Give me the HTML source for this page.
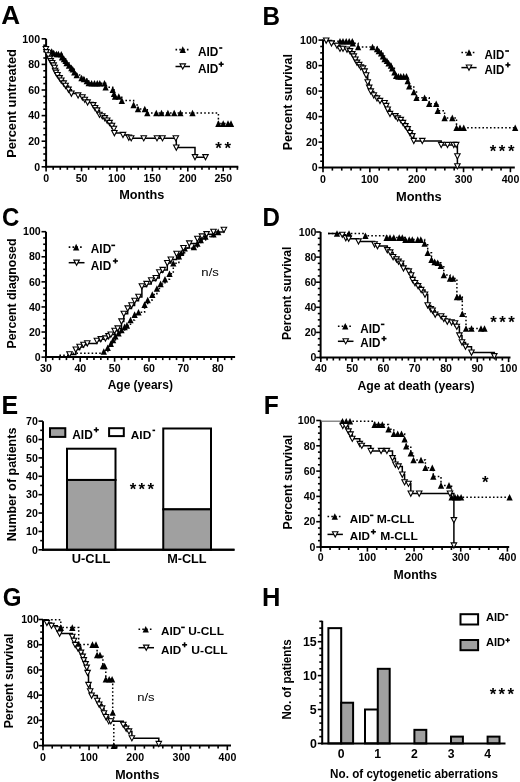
<!DOCTYPE html>
<html><head><meta charset="utf-8"><style>
html,body{margin:0;padding:0;background:#fff;}
svg{display:block;will-change:transform;}
text{font-family:"Liberation Sans", sans-serif;fill:#000;}
</style></head><body>
<svg width="520" height="782" viewBox="0 0 520 782">
<rect width="520" height="782" fill="#fff"/>
<text x="1.25" y="24.40" font-size="25.50" font-weight="bold" textLength="18.84" lengthAdjust="spacingAndGlyphs">A</text>
<text x="262.38" y="24.50" font-size="25.50" font-weight="bold" textLength="17.53" lengthAdjust="spacingAndGlyphs">B</text>
<text x="2.12" y="225.90" font-size="25.50" font-weight="bold" textLength="17.34" lengthAdjust="spacingAndGlyphs">C</text>
<text x="262.39" y="225.90" font-size="25.50" font-weight="bold" textLength="17.43" lengthAdjust="spacingAndGlyphs">D</text>
<text x="1.43" y="413.80" font-size="25.50" font-weight="bold" textLength="16.64" lengthAdjust="spacingAndGlyphs">E</text>
<text x="263.85" y="413.75" font-size="25.50" font-weight="bold" textLength="15.05" lengthAdjust="spacingAndGlyphs">F</text>
<text x="2.76" y="606.00" font-size="25.50" font-weight="bold" textLength="18.73" lengthAdjust="spacingAndGlyphs">G</text>
<text x="262.04" y="606.25" font-size="25.50" font-weight="bold" textLength="18.43" lengthAdjust="spacingAndGlyphs">H</text>
<line x1="46.10" y1="38.80" x2="46.10" y2="167.80" stroke="#000" stroke-width="2" />
<line x1="41.60" y1="166.80" x2="46.10" y2="166.80" stroke="#000" stroke-width="1.6" />
<line x1="43.30" y1="160.40" x2="46.10" y2="160.40" stroke="#000" stroke-width="1.6" />
<line x1="43.30" y1="154.00" x2="46.10" y2="154.00" stroke="#000" stroke-width="1.6" />
<line x1="43.30" y1="147.60" x2="46.10" y2="147.60" stroke="#000" stroke-width="1.6" />
<line x1="41.60" y1="141.20" x2="46.10" y2="141.20" stroke="#000" stroke-width="1.6" />
<line x1="43.30" y1="134.80" x2="46.10" y2="134.80" stroke="#000" stroke-width="1.6" />
<line x1="43.30" y1="128.40" x2="46.10" y2="128.40" stroke="#000" stroke-width="1.6" />
<line x1="43.30" y1="122.00" x2="46.10" y2="122.00" stroke="#000" stroke-width="1.6" />
<line x1="41.60" y1="115.60" x2="46.10" y2="115.60" stroke="#000" stroke-width="1.6" />
<line x1="43.30" y1="109.20" x2="46.10" y2="109.20" stroke="#000" stroke-width="1.6" />
<line x1="43.30" y1="102.80" x2="46.10" y2="102.80" stroke="#000" stroke-width="1.6" />
<line x1="43.30" y1="96.40" x2="46.10" y2="96.40" stroke="#000" stroke-width="1.6" />
<line x1="41.60" y1="90.00" x2="46.10" y2="90.00" stroke="#000" stroke-width="1.6" />
<line x1="43.30" y1="83.60" x2="46.10" y2="83.60" stroke="#000" stroke-width="1.6" />
<line x1="43.30" y1="77.20" x2="46.10" y2="77.20" stroke="#000" stroke-width="1.6" />
<line x1="43.30" y1="70.80" x2="46.10" y2="70.80" stroke="#000" stroke-width="1.6" />
<line x1="41.60" y1="64.40" x2="46.10" y2="64.40" stroke="#000" stroke-width="1.6" />
<line x1="43.30" y1="58.00" x2="46.10" y2="58.00" stroke="#000" stroke-width="1.6" />
<line x1="43.30" y1="51.60" x2="46.10" y2="51.60" stroke="#000" stroke-width="1.6" />
<line x1="43.30" y1="45.20" x2="46.10" y2="45.20" stroke="#000" stroke-width="1.6" />
<line x1="41.60" y1="38.80" x2="46.10" y2="38.80" stroke="#000" stroke-width="1.6" />
<line x1="45.10" y1="166.80" x2="238.30" y2="166.80" stroke="#000" stroke-width="2" />
<line x1="46.10" y1="166.80" x2="46.10" y2="171.40" stroke="#000" stroke-width="1.6" />
<line x1="53.19" y1="166.80" x2="53.19" y2="169.80" stroke="#000" stroke-width="1.6" />
<line x1="60.27" y1="166.80" x2="60.27" y2="169.80" stroke="#000" stroke-width="1.6" />
<line x1="67.36" y1="166.80" x2="67.36" y2="169.80" stroke="#000" stroke-width="1.6" />
<line x1="74.44" y1="166.80" x2="74.44" y2="169.80" stroke="#000" stroke-width="1.6" />
<line x1="81.53" y1="166.80" x2="81.53" y2="171.40" stroke="#000" stroke-width="1.6" />
<line x1="88.61" y1="166.80" x2="88.61" y2="169.80" stroke="#000" stroke-width="1.6" />
<line x1="95.69" y1="166.80" x2="95.69" y2="169.80" stroke="#000" stroke-width="1.6" />
<line x1="102.78" y1="166.80" x2="102.78" y2="169.80" stroke="#000" stroke-width="1.6" />
<line x1="109.87" y1="166.80" x2="109.87" y2="169.80" stroke="#000" stroke-width="1.6" />
<line x1="116.95" y1="166.80" x2="116.95" y2="171.40" stroke="#000" stroke-width="1.6" />
<line x1="124.03" y1="166.80" x2="124.03" y2="169.80" stroke="#000" stroke-width="1.6" />
<line x1="131.12" y1="166.80" x2="131.12" y2="169.80" stroke="#000" stroke-width="1.6" />
<line x1="138.21" y1="166.80" x2="138.21" y2="169.80" stroke="#000" stroke-width="1.6" />
<line x1="145.29" y1="166.80" x2="145.29" y2="169.80" stroke="#000" stroke-width="1.6" />
<line x1="152.38" y1="166.80" x2="152.38" y2="171.40" stroke="#000" stroke-width="1.6" />
<line x1="159.46" y1="166.80" x2="159.46" y2="169.80" stroke="#000" stroke-width="1.6" />
<line x1="166.55" y1="166.80" x2="166.55" y2="169.80" stroke="#000" stroke-width="1.6" />
<line x1="173.63" y1="166.80" x2="173.63" y2="169.80" stroke="#000" stroke-width="1.6" />
<line x1="180.72" y1="166.80" x2="180.72" y2="169.80" stroke="#000" stroke-width="1.6" />
<line x1="187.80" y1="166.80" x2="187.80" y2="171.40" stroke="#000" stroke-width="1.6" />
<line x1="194.88" y1="166.80" x2="194.88" y2="169.80" stroke="#000" stroke-width="1.6" />
<line x1="201.97" y1="166.80" x2="201.97" y2="169.80" stroke="#000" stroke-width="1.6" />
<line x1="209.06" y1="166.80" x2="209.06" y2="169.80" stroke="#000" stroke-width="1.6" />
<line x1="216.14" y1="166.80" x2="216.14" y2="169.80" stroke="#000" stroke-width="1.6" />
<line x1="223.22" y1="166.80" x2="223.22" y2="171.40" stroke="#000" stroke-width="1.6" />
<line x1="230.31" y1="166.80" x2="230.31" y2="169.80" stroke="#000" stroke-width="1.6" />
<line x1="237.40" y1="166.80" x2="237.40" y2="169.80" stroke="#000" stroke-width="1.6" />
<text x="34.14" y="170.50" font-size="10.60" font-weight="bold" textLength="5.90" lengthAdjust="spacingAndGlyphs">0</text>
<text x="28.24" y="144.90" font-size="10.60" font-weight="bold" textLength="11.79" lengthAdjust="spacingAndGlyphs">20</text>
<text x="28.24" y="119.30" font-size="10.60" font-weight="bold" textLength="11.79" lengthAdjust="spacingAndGlyphs">40</text>
<text x="28.24" y="93.70" font-size="10.60" font-weight="bold" textLength="11.79" lengthAdjust="spacingAndGlyphs">60</text>
<text x="28.24" y="68.10" font-size="10.60" font-weight="bold" textLength="11.79" lengthAdjust="spacingAndGlyphs">80</text>
<text x="22.35" y="42.50" font-size="10.60" font-weight="bold" textLength="17.69" lengthAdjust="spacingAndGlyphs">100</text>
<text x="43.16" y="182.10" font-size="10.60" font-weight="bold" textLength="5.90" lengthAdjust="spacingAndGlyphs">0</text>
<text x="75.68" y="182.10" font-size="10.60" font-weight="bold" textLength="11.79" lengthAdjust="spacingAndGlyphs">50</text>
<text x="107.99" y="182.10" font-size="10.60" font-weight="bold" textLength="17.69" lengthAdjust="spacingAndGlyphs">100</text>
<text x="143.42" y="182.10" font-size="10.60" font-weight="bold" textLength="17.69" lengthAdjust="spacingAndGlyphs">150</text>
<text x="178.99" y="182.10" font-size="10.60" font-weight="bold" textLength="17.69" lengthAdjust="spacingAndGlyphs">200</text>
<text x="214.42" y="182.10" font-size="10.60" font-weight="bold" textLength="17.69" lengthAdjust="spacingAndGlyphs">250</text>
<text transform="translate(15.90,157.00) rotate(-90)" x="-0.86" y="0" font-size="12.70" font-weight="bold" textLength="108.70" lengthAdjust="spacingAndGlyphs">Percent untreated</text>
<text x="119.15" y="198.80" font-size="12.40" font-weight="bold" textLength="45.17" lengthAdjust="spacingAndGlyphs">Months</text>
<line x1="175.50" y1="49.60" x2="190.00" y2="49.60" stroke="#000" stroke-width="1.6" stroke-dasharray="1.6 2.2"/>
<path d="M179.60 52.90L182.75 46.30L185.90 52.90Z" fill="#000"/>
<text x="197.91" y="55.60" font-size="13.00" font-weight="bold" textLength="20.39" lengthAdjust="spacingAndGlyphs">AID</text>
<rect x="219.20" y="47.20" width="3.10" height="1.6" fill="#000"/>
<line x1="175.50" y1="66.50" x2="190.00" y2="66.50" stroke="#000" stroke-width="1.5" />
<path d="M180.00 63.90L185.50 63.90L182.75 69.10Z" fill="#fff" stroke="#000" stroke-width="1.1" stroke-linejoin="miter"/>
<text x="197.91" y="72.70" font-size="13.00" font-weight="bold" textLength="20.39" lengthAdjust="spacingAndGlyphs">AID</text>
<rect x="218.70" y="63.40" width="5.00" height="1.60" fill="#000"/>
<rect x="220.40" y="61.70" width="1.60" height="5.00" fill="#000"/>
<text x="215.16" y="154.33" font-size="16.8" font-weight="bold">*</text>
<text x="224.46" y="154.33" font-size="16.8" font-weight="bold">*</text>
<path d="M46.30 50.50H51.70V51.50H53.60V53.00H56.50V54.00H58.40V54.00H61.30V54.20H62.00V57.30H64.00V59.00H65.60V60.70H66.60V63.00H69.00V65.50H71.40V67.90H72.80V69.30H74.30V72.20H76.70V75.00H81.50V78.00H83.90V79.00H86.80V81.00H88.70V83.00H91.60V83.30H94.50V83.30H97.30V83.30H99.80V83.30H104.50V83.30H105.60V87.20H112.70V89.80H114.00V93.70H115.00V96.50H118.80V96.50H121.80V100.60H133.60V104.90H138.00V109.00H144.80V109.00H147.30V113.00H156.30V113.00H161.50V113.00H167.90V113.00H174.20V113.00H180.40V113.00H192.50V113.00H218.40V123.60H223.20V123.60H228.00V123.60H231.00V123.60" fill="none" stroke="#000" stroke-width="1.5" stroke-dasharray="1.6 2.2"/>
<path d="M46.30 46.50H45.90V49.10H46.40V52.20H48.30V55.40H49.80V58.80H50.70V61.20H52.20V63.10H53.60V65.50H54.60V67.90H55.10V70.80H56.00V72.70H57.50V75.10H59.60V78.20H61.30V80.60H63.70V83.50H65.60V85.90H68.50V89.70H71.40V93.60H78.10V95.50H82.40V97.40H84.80V99.80H87.60V102.50H93.20V105.20H95.10V108.10H97.10V110.50H99.50V114.80H102.30V116.30H104.80V118.20H107.20V120.60H109.60V123.00H112.00V125.90H113.90V128.80H114.40V133.10H123.00V135.00H128.80V137.60H131.20V138.30H143.75V138.30H157.00V138.30H162.50V138.30H175.80V138.30H176.30V147.60H195.00V157.20H205.50V157.20" fill="none" stroke="#000" stroke-width="1.5" />
<path d="M48.55 54.80L51.70 48.20L54.85 54.80Z" fill="#000"/>
<path d="M50.45 56.30L53.60 49.70L56.75 56.30Z" fill="#000"/>
<path d="M53.35 57.30L56.50 50.70L59.65 57.30Z" fill="#000"/>
<path d="M55.25 57.30L58.40 50.70L61.55 57.30Z" fill="#000"/>
<path d="M58.15 57.50L61.30 50.90L64.45 57.50Z" fill="#000"/>
<path d="M58.85 60.60L62.00 54.00L65.15 60.60Z" fill="#000"/>
<path d="M60.85 62.30L64.00 55.70L67.15 62.30Z" fill="#000"/>
<path d="M62.45 64.00L65.60 57.40L68.75 64.00Z" fill="#000"/>
<path d="M63.45 66.30L66.60 59.70L69.75 66.30Z" fill="#000"/>
<path d="M65.85 68.80L69.00 62.20L72.15 68.80Z" fill="#000"/>
<path d="M68.25 71.20L71.40 64.60L74.55 71.20Z" fill="#000"/>
<path d="M69.65 72.60L72.80 66.00L75.95 72.60Z" fill="#000"/>
<path d="M71.15 75.50L74.30 68.90L77.45 75.50Z" fill="#000"/>
<path d="M73.55 78.30L76.70 71.70L79.85 78.30Z" fill="#000"/>
<path d="M78.35 81.30L81.50 74.70L84.65 81.30Z" fill="#000"/>
<path d="M80.75 82.30L83.90 75.70L87.05 82.30Z" fill="#000"/>
<path d="M83.65 84.30L86.80 77.70L89.95 84.30Z" fill="#000"/>
<path d="M85.55 86.30L88.70 79.70L91.85 86.30Z" fill="#000"/>
<path d="M88.45 86.60L91.60 80.00L94.75 86.60Z" fill="#000"/>
<path d="M91.35 86.60L94.50 80.00L97.65 86.60Z" fill="#000"/>
<path d="M94.15 86.60L97.30 80.00L100.45 86.60Z" fill="#000"/>
<path d="M96.65 86.60L99.80 80.00L102.95 86.60Z" fill="#000"/>
<path d="M101.35 86.60L104.50 80.00L107.65 86.60Z" fill="#000"/>
<path d="M102.45 90.50L105.60 83.90L108.75 90.50Z" fill="#000"/>
<path d="M109.55 93.10L112.70 86.50L115.85 93.10Z" fill="#000"/>
<path d="M110.85 97.00L114.00 90.40L117.15 97.00Z" fill="#000"/>
<path d="M111.85 99.80L115.00 93.20L118.15 99.80Z" fill="#000"/>
<path d="M115.65 99.80L118.80 93.20L121.95 99.80Z" fill="#000"/>
<path d="M118.65 103.90L121.80 97.30L124.95 103.90Z" fill="#000"/>
<path d="M130.45 108.20L133.60 101.60L136.75 108.20Z" fill="#000"/>
<path d="M134.85 112.30L138.00 105.70L141.15 112.30Z" fill="#000"/>
<path d="M141.65 112.30L144.80 105.70L147.95 112.30Z" fill="#000"/>
<path d="M144.15 116.30L147.30 109.70L150.45 116.30Z" fill="#000"/>
<path d="M153.15 116.30L156.30 109.70L159.45 116.30Z" fill="#000"/>
<path d="M158.35 116.30L161.50 109.70L164.65 116.30Z" fill="#000"/>
<path d="M164.75 116.30L167.90 109.70L171.05 116.30Z" fill="#000"/>
<path d="M171.05 116.30L174.20 109.70L177.35 116.30Z" fill="#000"/>
<path d="M177.25 116.30L180.40 109.70L183.55 116.30Z" fill="#000"/>
<path d="M189.35 116.30L192.50 109.70L195.65 116.30Z" fill="#000"/>
<path d="M215.25 126.90L218.40 120.30L221.55 126.90Z" fill="#000"/>
<path d="M220.05 126.90L223.20 120.30L226.35 126.90Z" fill="#000"/>
<path d="M224.85 126.90L228.00 120.30L231.15 126.90Z" fill="#000"/>
<path d="M227.85 126.90L231.00 120.30L234.15 126.90Z" fill="#000"/>
<path d="M43.15 46.50L48.65 46.50L45.90 51.70Z" fill="#fff" stroke="#000" stroke-width="1.1" stroke-linejoin="miter"/>
<path d="M43.65 49.60L49.15 49.60L46.40 54.80Z" fill="#fff" stroke="#000" stroke-width="1.1" stroke-linejoin="miter"/>
<path d="M45.55 52.80L51.05 52.80L48.30 58.00Z" fill="#fff" stroke="#000" stroke-width="1.1" stroke-linejoin="miter"/>
<path d="M47.05 56.20L52.55 56.20L49.80 61.40Z" fill="#fff" stroke="#000" stroke-width="1.1" stroke-linejoin="miter"/>
<path d="M47.95 58.60L53.45 58.60L50.70 63.80Z" fill="#fff" stroke="#000" stroke-width="1.1" stroke-linejoin="miter"/>
<path d="M49.45 60.50L54.95 60.50L52.20 65.70Z" fill="#fff" stroke="#000" stroke-width="1.1" stroke-linejoin="miter"/>
<path d="M50.85 62.90L56.35 62.90L53.60 68.10Z" fill="#fff" stroke="#000" stroke-width="1.1" stroke-linejoin="miter"/>
<path d="M51.85 65.30L57.35 65.30L54.60 70.50Z" fill="#fff" stroke="#000" stroke-width="1.1" stroke-linejoin="miter"/>
<path d="M52.35 68.20L57.85 68.20L55.10 73.40Z" fill="#fff" stroke="#000" stroke-width="1.1" stroke-linejoin="miter"/>
<path d="M53.25 70.10L58.75 70.10L56.00 75.30Z" fill="#fff" stroke="#000" stroke-width="1.1" stroke-linejoin="miter"/>
<path d="M54.75 72.50L60.25 72.50L57.50 77.70Z" fill="#fff" stroke="#000" stroke-width="1.1" stroke-linejoin="miter"/>
<path d="M56.85 75.60L62.35 75.60L59.60 80.80Z" fill="#fff" stroke="#000" stroke-width="1.1" stroke-linejoin="miter"/>
<path d="M58.55 78.00L64.05 78.00L61.30 83.20Z" fill="#fff" stroke="#000" stroke-width="1.1" stroke-linejoin="miter"/>
<path d="M60.95 80.90L66.45 80.90L63.70 86.10Z" fill="#fff" stroke="#000" stroke-width="1.1" stroke-linejoin="miter"/>
<path d="M62.85 83.30L68.35 83.30L65.60 88.50Z" fill="#fff" stroke="#000" stroke-width="1.1" stroke-linejoin="miter"/>
<path d="M65.75 87.10L71.25 87.10L68.50 92.30Z" fill="#fff" stroke="#000" stroke-width="1.1" stroke-linejoin="miter"/>
<path d="M68.65 91.00L74.15 91.00L71.40 96.20Z" fill="#fff" stroke="#000" stroke-width="1.1" stroke-linejoin="miter"/>
<path d="M75.35 92.90L80.85 92.90L78.10 98.10Z" fill="#fff" stroke="#000" stroke-width="1.1" stroke-linejoin="miter"/>
<path d="M79.65 94.80L85.15 94.80L82.40 100.00Z" fill="#fff" stroke="#000" stroke-width="1.1" stroke-linejoin="miter"/>
<path d="M82.05 97.20L87.55 97.20L84.80 102.40Z" fill="#fff" stroke="#000" stroke-width="1.1" stroke-linejoin="miter"/>
<path d="M84.85 99.90L90.35 99.90L87.60 105.10Z" fill="#fff" stroke="#000" stroke-width="1.1" stroke-linejoin="miter"/>
<path d="M90.45 102.60L95.95 102.60L93.20 107.80Z" fill="#fff" stroke="#000" stroke-width="1.1" stroke-linejoin="miter"/>
<path d="M92.35 105.50L97.85 105.50L95.10 110.70Z" fill="#fff" stroke="#000" stroke-width="1.1" stroke-linejoin="miter"/>
<path d="M94.35 107.90L99.85 107.90L97.10 113.10Z" fill="#fff" stroke="#000" stroke-width="1.1" stroke-linejoin="miter"/>
<path d="M96.75 112.20L102.25 112.20L99.50 117.40Z" fill="#fff" stroke="#000" stroke-width="1.1" stroke-linejoin="miter"/>
<path d="M99.55 113.70L105.05 113.70L102.30 118.90Z" fill="#fff" stroke="#000" stroke-width="1.1" stroke-linejoin="miter"/>
<path d="M102.05 115.60L107.55 115.60L104.80 120.80Z" fill="#fff" stroke="#000" stroke-width="1.1" stroke-linejoin="miter"/>
<path d="M104.45 118.00L109.95 118.00L107.20 123.20Z" fill="#fff" stroke="#000" stroke-width="1.1" stroke-linejoin="miter"/>
<path d="M106.85 120.40L112.35 120.40L109.60 125.60Z" fill="#fff" stroke="#000" stroke-width="1.1" stroke-linejoin="miter"/>
<path d="M109.25 123.30L114.75 123.30L112.00 128.50Z" fill="#fff" stroke="#000" stroke-width="1.1" stroke-linejoin="miter"/>
<path d="M111.15 126.20L116.65 126.20L113.90 131.40Z" fill="#fff" stroke="#000" stroke-width="1.1" stroke-linejoin="miter"/>
<path d="M111.65 130.50L117.15 130.50L114.40 135.70Z" fill="#fff" stroke="#000" stroke-width="1.1" stroke-linejoin="miter"/>
<path d="M120.25 132.40L125.75 132.40L123.00 137.60Z" fill="#fff" stroke="#000" stroke-width="1.1" stroke-linejoin="miter"/>
<path d="M126.05 135.00L131.55 135.00L128.80 140.20Z" fill="#fff" stroke="#000" stroke-width="1.1" stroke-linejoin="miter"/>
<path d="M128.45 135.70L133.95 135.70L131.20 140.90Z" fill="#fff" stroke="#000" stroke-width="1.1" stroke-linejoin="miter"/>
<path d="M141.00 135.70L146.50 135.70L143.75 140.90Z" fill="#fff" stroke="#000" stroke-width="1.1" stroke-linejoin="miter"/>
<path d="M154.25 135.70L159.75 135.70L157.00 140.90Z" fill="#fff" stroke="#000" stroke-width="1.1" stroke-linejoin="miter"/>
<path d="M159.75 135.70L165.25 135.70L162.50 140.90Z" fill="#fff" stroke="#000" stroke-width="1.1" stroke-linejoin="miter"/>
<path d="M173.05 135.70L178.55 135.70L175.80 140.90Z" fill="#fff" stroke="#000" stroke-width="1.1" stroke-linejoin="miter"/>
<path d="M173.55 145.00L179.05 145.00L176.30 150.20Z" fill="#fff" stroke="#000" stroke-width="1.1" stroke-linejoin="miter"/>
<path d="M192.25 154.60L197.75 154.60L195.00 159.80Z" fill="#fff" stroke="#000" stroke-width="1.1" stroke-linejoin="miter"/>
<path d="M202.75 154.60L208.25 154.60L205.50 159.80Z" fill="#fff" stroke="#000" stroke-width="1.1" stroke-linejoin="miter"/>
<line x1="323.00" y1="40.10" x2="323.00" y2="168.60" stroke="#000" stroke-width="2" />
<line x1="318.50" y1="167.60" x2="323.00" y2="167.60" stroke="#000" stroke-width="1.6" />
<line x1="320.20" y1="161.22" x2="323.00" y2="161.22" stroke="#000" stroke-width="1.6" />
<line x1="320.20" y1="154.85" x2="323.00" y2="154.85" stroke="#000" stroke-width="1.6" />
<line x1="320.20" y1="148.47" x2="323.00" y2="148.47" stroke="#000" stroke-width="1.6" />
<line x1="318.50" y1="142.10" x2="323.00" y2="142.10" stroke="#000" stroke-width="1.6" />
<line x1="320.20" y1="135.72" x2="323.00" y2="135.72" stroke="#000" stroke-width="1.6" />
<line x1="320.20" y1="129.35" x2="323.00" y2="129.35" stroke="#000" stroke-width="1.6" />
<line x1="320.20" y1="122.97" x2="323.00" y2="122.97" stroke="#000" stroke-width="1.6" />
<line x1="318.50" y1="116.60" x2="323.00" y2="116.60" stroke="#000" stroke-width="1.6" />
<line x1="320.20" y1="110.22" x2="323.00" y2="110.22" stroke="#000" stroke-width="1.6" />
<line x1="320.20" y1="103.85" x2="323.00" y2="103.85" stroke="#000" stroke-width="1.6" />
<line x1="320.20" y1="97.47" x2="323.00" y2="97.47" stroke="#000" stroke-width="1.6" />
<line x1="318.50" y1="91.10" x2="323.00" y2="91.10" stroke="#000" stroke-width="1.6" />
<line x1="320.20" y1="84.72" x2="323.00" y2="84.72" stroke="#000" stroke-width="1.6" />
<line x1="320.20" y1="78.35" x2="323.00" y2="78.35" stroke="#000" stroke-width="1.6" />
<line x1="320.20" y1="71.97" x2="323.00" y2="71.97" stroke="#000" stroke-width="1.6" />
<line x1="318.50" y1="65.60" x2="323.00" y2="65.60" stroke="#000" stroke-width="1.6" />
<line x1="320.20" y1="59.23" x2="323.00" y2="59.23" stroke="#000" stroke-width="1.6" />
<line x1="320.20" y1="52.85" x2="323.00" y2="52.85" stroke="#000" stroke-width="1.6" />
<line x1="320.20" y1="46.48" x2="323.00" y2="46.48" stroke="#000" stroke-width="1.6" />
<line x1="318.50" y1="40.10" x2="323.00" y2="40.10" stroke="#000" stroke-width="1.6" />
<line x1="322.00" y1="167.60" x2="514.80" y2="167.60" stroke="#000" stroke-width="2" />
<line x1="323.00" y1="167.60" x2="323.00" y2="172.20" stroke="#000" stroke-width="1.6" />
<line x1="332.37" y1="167.60" x2="332.37" y2="170.60" stroke="#000" stroke-width="1.6" />
<line x1="341.74" y1="167.60" x2="341.74" y2="170.60" stroke="#000" stroke-width="1.6" />
<line x1="351.11" y1="167.60" x2="351.11" y2="170.60" stroke="#000" stroke-width="1.6" />
<line x1="360.48" y1="167.60" x2="360.48" y2="170.60" stroke="#000" stroke-width="1.6" />
<line x1="369.85" y1="167.60" x2="369.85" y2="172.20" stroke="#000" stroke-width="1.6" />
<line x1="379.22" y1="167.60" x2="379.22" y2="170.60" stroke="#000" stroke-width="1.6" />
<line x1="388.59" y1="167.60" x2="388.59" y2="170.60" stroke="#000" stroke-width="1.6" />
<line x1="397.96" y1="167.60" x2="397.96" y2="170.60" stroke="#000" stroke-width="1.6" />
<line x1="407.33" y1="167.60" x2="407.33" y2="170.60" stroke="#000" stroke-width="1.6" />
<line x1="416.70" y1="167.60" x2="416.70" y2="172.20" stroke="#000" stroke-width="1.6" />
<line x1="426.07" y1="167.60" x2="426.07" y2="170.60" stroke="#000" stroke-width="1.6" />
<line x1="435.44" y1="167.60" x2="435.44" y2="170.60" stroke="#000" stroke-width="1.6" />
<line x1="444.81" y1="167.60" x2="444.81" y2="170.60" stroke="#000" stroke-width="1.6" />
<line x1="454.18" y1="167.60" x2="454.18" y2="170.60" stroke="#000" stroke-width="1.6" />
<line x1="463.55" y1="167.60" x2="463.55" y2="172.20" stroke="#000" stroke-width="1.6" />
<line x1="472.92" y1="167.60" x2="472.92" y2="170.60" stroke="#000" stroke-width="1.6" />
<line x1="482.29" y1="167.60" x2="482.29" y2="170.60" stroke="#000" stroke-width="1.6" />
<line x1="491.66" y1="167.60" x2="491.66" y2="170.60" stroke="#000" stroke-width="1.6" />
<line x1="501.03" y1="167.60" x2="501.03" y2="170.60" stroke="#000" stroke-width="1.6" />
<line x1="510.40" y1="167.60" x2="510.40" y2="172.20" stroke="#000" stroke-width="1.6" />
<text x="311.84" y="171.30" font-size="10.60" font-weight="bold" textLength="5.90" lengthAdjust="spacingAndGlyphs">0</text>
<text x="305.94" y="145.80" font-size="10.60" font-weight="bold" textLength="11.79" lengthAdjust="spacingAndGlyphs">20</text>
<text x="305.94" y="120.30" font-size="10.60" font-weight="bold" textLength="11.79" lengthAdjust="spacingAndGlyphs">40</text>
<text x="305.94" y="94.80" font-size="10.60" font-weight="bold" textLength="11.79" lengthAdjust="spacingAndGlyphs">60</text>
<text x="305.94" y="69.30" font-size="10.60" font-weight="bold" textLength="11.79" lengthAdjust="spacingAndGlyphs">80</text>
<text x="300.05" y="43.80" font-size="10.60" font-weight="bold" textLength="17.69" lengthAdjust="spacingAndGlyphs">100</text>
<text x="320.06" y="183.00" font-size="10.60" font-weight="bold" textLength="5.90" lengthAdjust="spacingAndGlyphs">0</text>
<text x="360.89" y="183.00" font-size="10.60" font-weight="bold" textLength="17.69" lengthAdjust="spacingAndGlyphs">100</text>
<text x="407.89" y="183.00" font-size="10.60" font-weight="bold" textLength="17.69" lengthAdjust="spacingAndGlyphs">200</text>
<text x="454.80" y="183.00" font-size="10.60" font-weight="bold" textLength="17.69" lengthAdjust="spacingAndGlyphs">300</text>
<text x="501.69" y="183.00" font-size="10.60" font-weight="bold" textLength="17.69" lengthAdjust="spacingAndGlyphs">400</text>
<text transform="translate(292.00,149.40) rotate(-90)" x="-0.83" y="0" font-size="12.50" font-weight="bold" textLength="96.11" lengthAdjust="spacingAndGlyphs">Percent survival</text>
<text x="396.04" y="200.50" font-size="12.40" font-weight="bold" textLength="45.69" lengthAdjust="spacingAndGlyphs">Months</text>
<line x1="461.40" y1="52.50" x2="476.60" y2="52.50" stroke="#000" stroke-width="1.6" stroke-dasharray="1.6 2.2"/>
<path d="M465.85 55.80L469.00 49.20L472.15 55.80Z" fill="#000"/>
<text x="484.41" y="59.20" font-size="12.60" font-weight="bold" textLength="19.87" lengthAdjust="spacingAndGlyphs">AID</text>
<rect x="505.20" y="50.20" width="3.80" height="1.6" fill="#000"/>
<line x1="461.40" y1="67.60" x2="476.60" y2="67.60" stroke="#000" stroke-width="1.5" />
<path d="M466.25 65.00L471.75 65.00L469.00 70.20Z" fill="#fff" stroke="#000" stroke-width="1.1" stroke-linejoin="miter"/>
<text x="484.41" y="74.30" font-size="12.60" font-weight="bold" textLength="19.87" lengthAdjust="spacingAndGlyphs">AID</text>
<rect x="505.40" y="64.10" width="5.00" height="1.60" fill="#000"/>
<rect x="507.10" y="62.40" width="1.60" height="5.00" fill="#000"/>
<text x="489.76" y="156.83" font-size="16.8" font-weight="bold">*</text>
<text x="498.86" y="156.83" font-size="16.8" font-weight="bold">*</text>
<text x="507.96" y="156.83" font-size="16.8" font-weight="bold">*</text>
<path d="M322.00 41.20H340.00V41.20H343.00V41.20H346.20V41.20H349.20V41.20H352.30V41.20H352.80V43.20H358.10V47.00H372.50V47.00H377.10V48.90H378.80V51.00H381.10V53.30H382.90V56.10H384.60V59.00H386.90V60.80H388.60V63.10H390.90V65.40H392.10V68.30H394.40V72.30H396.10V75.60H398.40V76.40H400.80V76.40H403.60V76.40H406.50V76.40H407.70V81.00H409.20V86.20H413.80V92.00H416.50V97.70H424.60V97.70H429.20V103.80H436.20V103.80H437.70V110.80H444.60V117.90H452.30V117.90H456.50V127.80H460.00V127.80H463.75V127.80H515.20V127.80" fill="none" stroke="#000" stroke-width="1.5" stroke-dasharray="1.6 2.2"/>
<path d="M322.00 40.20H326.20V40.60H331.50V43.50H337.00V45.80H340.00V48.80H343.00V48.80H347.00V49.60H350.00V51.20H352.30V54.20H353.80V56.50H355.40V59.60H357.00V62.70H359.20V65.00H360.80V67.30H363.00V68.50H364.60V71.50H366.20V75.40H367.70V82.30H369.20V87.70H370.80V91.50H373.80V95.40H377.00V98.50H380.00V101.00H384.60V103.10H386.20V106.00H387.70V109.60H390.00V114.00H395.40V116.20H397.70V118.50H400.80V120.00H403.00V123.00H405.40V126.20H407.70V129.20H410.00V133.10H412.30V136.20H413.80V141.00H422.30V141.00H441.20V145.00H447.50V145.00H453.80V145.00H456.20V145.00H457.40V156.30H457.40V166.30" fill="none" stroke="#000" stroke-width="1.5" />
<path d="M336.85 44.50L340.00 37.90L343.15 44.50Z" fill="#000"/>
<path d="M339.85 44.50L343.00 37.90L346.15 44.50Z" fill="#000"/>
<path d="M343.05 44.50L346.20 37.90L349.35 44.50Z" fill="#000"/>
<path d="M346.05 44.50L349.20 37.90L352.35 44.50Z" fill="#000"/>
<path d="M349.15 44.50L352.30 37.90L355.45 44.50Z" fill="#000"/>
<path d="M349.65 46.50L352.80 39.90L355.95 46.50Z" fill="#000"/>
<path d="M354.95 50.30L358.10 43.70L361.25 50.30Z" fill="#000"/>
<path d="M369.35 50.30L372.50 43.70L375.65 50.30Z" fill="#000"/>
<path d="M373.95 52.20L377.10 45.60L380.25 52.20Z" fill="#000"/>
<path d="M375.65 54.30L378.80 47.70L381.95 54.30Z" fill="#000"/>
<path d="M377.95 56.60L381.10 50.00L384.25 56.60Z" fill="#000"/>
<path d="M379.75 59.40L382.90 52.80L386.05 59.40Z" fill="#000"/>
<path d="M381.45 62.30L384.60 55.70L387.75 62.30Z" fill="#000"/>
<path d="M383.75 64.10L386.90 57.50L390.05 64.10Z" fill="#000"/>
<path d="M385.45 66.40L388.60 59.80L391.75 66.40Z" fill="#000"/>
<path d="M387.75 68.70L390.90 62.10L394.05 68.70Z" fill="#000"/>
<path d="M388.95 71.60L392.10 65.00L395.25 71.60Z" fill="#000"/>
<path d="M391.25 75.60L394.40 69.00L397.55 75.60Z" fill="#000"/>
<path d="M392.95 78.90L396.10 72.30L399.25 78.90Z" fill="#000"/>
<path d="M395.25 79.70L398.40 73.10L401.55 79.70Z" fill="#000"/>
<path d="M397.65 79.70L400.80 73.10L403.95 79.70Z" fill="#000"/>
<path d="M400.45 79.70L403.60 73.10L406.75 79.70Z" fill="#000"/>
<path d="M403.35 79.70L406.50 73.10L409.65 79.70Z" fill="#000"/>
<path d="M404.55 84.30L407.70 77.70L410.85 84.30Z" fill="#000"/>
<path d="M406.05 89.50L409.20 82.90L412.35 89.50Z" fill="#000"/>
<path d="M410.65 95.30L413.80 88.70L416.95 95.30Z" fill="#000"/>
<path d="M413.35 101.00L416.50 94.40L419.65 101.00Z" fill="#000"/>
<path d="M421.45 101.00L424.60 94.40L427.75 101.00Z" fill="#000"/>
<path d="M426.05 107.10L429.20 100.50L432.35 107.10Z" fill="#000"/>
<path d="M433.05 107.10L436.20 100.50L439.35 107.10Z" fill="#000"/>
<path d="M434.55 114.10L437.70 107.50L440.85 114.10Z" fill="#000"/>
<path d="M441.45 121.20L444.60 114.60L447.75 121.20Z" fill="#000"/>
<path d="M449.15 121.20L452.30 114.60L455.45 121.20Z" fill="#000"/>
<path d="M453.35 131.10L456.50 124.50L459.65 131.10Z" fill="#000"/>
<path d="M456.85 131.10L460.00 124.50L463.15 131.10Z" fill="#000"/>
<path d="M460.60 131.10L463.75 124.50L466.90 131.10Z" fill="#000"/>
<path d="M512.05 131.10L515.20 124.50L518.35 131.10Z" fill="#000"/>
<path d="M323.45 38.00L328.95 38.00L326.20 43.20Z" fill="#fff" stroke="#000" stroke-width="1.1" stroke-linejoin="miter"/>
<path d="M328.75 40.90L334.25 40.90L331.50 46.10Z" fill="#fff" stroke="#000" stroke-width="1.1" stroke-linejoin="miter"/>
<path d="M334.25 43.20L339.75 43.20L337.00 48.40Z" fill="#fff" stroke="#000" stroke-width="1.1" stroke-linejoin="miter"/>
<path d="M337.25 46.20L342.75 46.20L340.00 51.40Z" fill="#fff" stroke="#000" stroke-width="1.1" stroke-linejoin="miter"/>
<path d="M340.25 46.20L345.75 46.20L343.00 51.40Z" fill="#fff" stroke="#000" stroke-width="1.1" stroke-linejoin="miter"/>
<path d="M344.25 47.00L349.75 47.00L347.00 52.20Z" fill="#fff" stroke="#000" stroke-width="1.1" stroke-linejoin="miter"/>
<path d="M347.25 48.60L352.75 48.60L350.00 53.80Z" fill="#fff" stroke="#000" stroke-width="1.1" stroke-linejoin="miter"/>
<path d="M349.55 51.60L355.05 51.60L352.30 56.80Z" fill="#fff" stroke="#000" stroke-width="1.1" stroke-linejoin="miter"/>
<path d="M351.05 53.90L356.55 53.90L353.80 59.10Z" fill="#fff" stroke="#000" stroke-width="1.1" stroke-linejoin="miter"/>
<path d="M352.65 57.00L358.15 57.00L355.40 62.20Z" fill="#fff" stroke="#000" stroke-width="1.1" stroke-linejoin="miter"/>
<path d="M354.25 60.10L359.75 60.10L357.00 65.30Z" fill="#fff" stroke="#000" stroke-width="1.1" stroke-linejoin="miter"/>
<path d="M356.45 62.40L361.95 62.40L359.20 67.60Z" fill="#fff" stroke="#000" stroke-width="1.1" stroke-linejoin="miter"/>
<path d="M358.05 64.70L363.55 64.70L360.80 69.90Z" fill="#fff" stroke="#000" stroke-width="1.1" stroke-linejoin="miter"/>
<path d="M360.25 65.90L365.75 65.90L363.00 71.10Z" fill="#fff" stroke="#000" stroke-width="1.1" stroke-linejoin="miter"/>
<path d="M361.85 68.90L367.35 68.90L364.60 74.10Z" fill="#fff" stroke="#000" stroke-width="1.1" stroke-linejoin="miter"/>
<path d="M363.45 72.80L368.95 72.80L366.20 78.00Z" fill="#fff" stroke="#000" stroke-width="1.1" stroke-linejoin="miter"/>
<path d="M364.95 79.70L370.45 79.70L367.70 84.90Z" fill="#fff" stroke="#000" stroke-width="1.1" stroke-linejoin="miter"/>
<path d="M366.45 85.10L371.95 85.10L369.20 90.30Z" fill="#fff" stroke="#000" stroke-width="1.1" stroke-linejoin="miter"/>
<path d="M368.05 88.90L373.55 88.90L370.80 94.10Z" fill="#fff" stroke="#000" stroke-width="1.1" stroke-linejoin="miter"/>
<path d="M371.05 92.80L376.55 92.80L373.80 98.00Z" fill="#fff" stroke="#000" stroke-width="1.1" stroke-linejoin="miter"/>
<path d="M374.25 95.90L379.75 95.90L377.00 101.10Z" fill="#fff" stroke="#000" stroke-width="1.1" stroke-linejoin="miter"/>
<path d="M377.25 98.40L382.75 98.40L380.00 103.60Z" fill="#fff" stroke="#000" stroke-width="1.1" stroke-linejoin="miter"/>
<path d="M381.85 100.50L387.35 100.50L384.60 105.70Z" fill="#fff" stroke="#000" stroke-width="1.1" stroke-linejoin="miter"/>
<path d="M383.45 103.40L388.95 103.40L386.20 108.60Z" fill="#fff" stroke="#000" stroke-width="1.1" stroke-linejoin="miter"/>
<path d="M384.95 107.00L390.45 107.00L387.70 112.20Z" fill="#fff" stroke="#000" stroke-width="1.1" stroke-linejoin="miter"/>
<path d="M387.25 111.40L392.75 111.40L390.00 116.60Z" fill="#fff" stroke="#000" stroke-width="1.1" stroke-linejoin="miter"/>
<path d="M392.65 113.60L398.15 113.60L395.40 118.80Z" fill="#fff" stroke="#000" stroke-width="1.1" stroke-linejoin="miter"/>
<path d="M394.95 115.90L400.45 115.90L397.70 121.10Z" fill="#fff" stroke="#000" stroke-width="1.1" stroke-linejoin="miter"/>
<path d="M398.05 117.40L403.55 117.40L400.80 122.60Z" fill="#fff" stroke="#000" stroke-width="1.1" stroke-linejoin="miter"/>
<path d="M400.25 120.40L405.75 120.40L403.00 125.60Z" fill="#fff" stroke="#000" stroke-width="1.1" stroke-linejoin="miter"/>
<path d="M402.65 123.60L408.15 123.60L405.40 128.80Z" fill="#fff" stroke="#000" stroke-width="1.1" stroke-linejoin="miter"/>
<path d="M404.95 126.60L410.45 126.60L407.70 131.80Z" fill="#fff" stroke="#000" stroke-width="1.1" stroke-linejoin="miter"/>
<path d="M407.25 130.50L412.75 130.50L410.00 135.70Z" fill="#fff" stroke="#000" stroke-width="1.1" stroke-linejoin="miter"/>
<path d="M409.55 133.60L415.05 133.60L412.30 138.80Z" fill="#fff" stroke="#000" stroke-width="1.1" stroke-linejoin="miter"/>
<path d="M411.05 138.40L416.55 138.40L413.80 143.60Z" fill="#fff" stroke="#000" stroke-width="1.1" stroke-linejoin="miter"/>
<path d="M419.55 138.40L425.05 138.40L422.30 143.60Z" fill="#fff" stroke="#000" stroke-width="1.1" stroke-linejoin="miter"/>
<path d="M438.45 142.40L443.95 142.40L441.20 147.60Z" fill="#fff" stroke="#000" stroke-width="1.1" stroke-linejoin="miter"/>
<path d="M444.75 142.40L450.25 142.40L447.50 147.60Z" fill="#fff" stroke="#000" stroke-width="1.1" stroke-linejoin="miter"/>
<path d="M451.05 142.40L456.55 142.40L453.80 147.60Z" fill="#fff" stroke="#000" stroke-width="1.1" stroke-linejoin="miter"/>
<path d="M453.45 142.40L458.95 142.40L456.20 147.60Z" fill="#fff" stroke="#000" stroke-width="1.1" stroke-linejoin="miter"/>
<path d="M454.65 153.70L460.15 153.70L457.40 158.90Z" fill="#fff" stroke="#000" stroke-width="1.1" stroke-linejoin="miter"/>
<path d="M454.65 163.70L460.15 163.70L457.40 168.90Z" fill="#fff" stroke="#000" stroke-width="1.1" stroke-linejoin="miter"/>
<line x1="46.00" y1="231.70" x2="46.00" y2="358.10" stroke="#000" stroke-width="2" />
<line x1="41.50" y1="357.10" x2="46.00" y2="357.10" stroke="#000" stroke-width="1.6" />
<line x1="43.20" y1="350.83" x2="46.00" y2="350.83" stroke="#000" stroke-width="1.6" />
<line x1="43.20" y1="344.56" x2="46.00" y2="344.56" stroke="#000" stroke-width="1.6" />
<line x1="43.20" y1="338.29" x2="46.00" y2="338.29" stroke="#000" stroke-width="1.6" />
<line x1="41.50" y1="332.02" x2="46.00" y2="332.02" stroke="#000" stroke-width="1.6" />
<line x1="43.20" y1="325.75" x2="46.00" y2="325.75" stroke="#000" stroke-width="1.6" />
<line x1="43.20" y1="319.48" x2="46.00" y2="319.48" stroke="#000" stroke-width="1.6" />
<line x1="43.20" y1="313.21" x2="46.00" y2="313.21" stroke="#000" stroke-width="1.6" />
<line x1="41.50" y1="306.94" x2="46.00" y2="306.94" stroke="#000" stroke-width="1.6" />
<line x1="43.20" y1="300.67" x2="46.00" y2="300.67" stroke="#000" stroke-width="1.6" />
<line x1="43.20" y1="294.40" x2="46.00" y2="294.40" stroke="#000" stroke-width="1.6" />
<line x1="43.20" y1="288.13" x2="46.00" y2="288.13" stroke="#000" stroke-width="1.6" />
<line x1="41.50" y1="281.86" x2="46.00" y2="281.86" stroke="#000" stroke-width="1.6" />
<line x1="43.20" y1="275.59" x2="46.00" y2="275.59" stroke="#000" stroke-width="1.6" />
<line x1="43.20" y1="269.32" x2="46.00" y2="269.32" stroke="#000" stroke-width="1.6" />
<line x1="43.20" y1="263.05" x2="46.00" y2="263.05" stroke="#000" stroke-width="1.6" />
<line x1="41.50" y1="256.78" x2="46.00" y2="256.78" stroke="#000" stroke-width="1.6" />
<line x1="43.20" y1="250.51" x2="46.00" y2="250.51" stroke="#000" stroke-width="1.6" />
<line x1="43.20" y1="244.24" x2="46.00" y2="244.24" stroke="#000" stroke-width="1.6" />
<line x1="43.20" y1="237.97" x2="46.00" y2="237.97" stroke="#000" stroke-width="1.6" />
<line x1="41.50" y1="231.70" x2="46.00" y2="231.70" stroke="#000" stroke-width="1.6" />
<line x1="45.00" y1="357.10" x2="235.10" y2="357.10" stroke="#000" stroke-width="2" />
<line x1="45.80" y1="357.10" x2="45.80" y2="361.70" stroke="#000" stroke-width="1.6" />
<line x1="52.68" y1="357.10" x2="52.68" y2="360.10" stroke="#000" stroke-width="1.6" />
<line x1="59.56" y1="357.10" x2="59.56" y2="360.10" stroke="#000" stroke-width="1.6" />
<line x1="66.44" y1="357.10" x2="66.44" y2="360.10" stroke="#000" stroke-width="1.6" />
<line x1="73.32" y1="357.10" x2="73.32" y2="360.10" stroke="#000" stroke-width="1.6" />
<line x1="80.20" y1="357.10" x2="80.20" y2="361.70" stroke="#000" stroke-width="1.6" />
<line x1="87.08" y1="357.10" x2="87.08" y2="360.10" stroke="#000" stroke-width="1.6" />
<line x1="93.96" y1="357.10" x2="93.96" y2="360.10" stroke="#000" stroke-width="1.6" />
<line x1="100.84" y1="357.10" x2="100.84" y2="360.10" stroke="#000" stroke-width="1.6" />
<line x1="107.72" y1="357.10" x2="107.72" y2="360.10" stroke="#000" stroke-width="1.6" />
<line x1="114.60" y1="357.10" x2="114.60" y2="361.70" stroke="#000" stroke-width="1.6" />
<line x1="121.48" y1="357.10" x2="121.48" y2="360.10" stroke="#000" stroke-width="1.6" />
<line x1="128.36" y1="357.10" x2="128.36" y2="360.10" stroke="#000" stroke-width="1.6" />
<line x1="135.24" y1="357.10" x2="135.24" y2="360.10" stroke="#000" stroke-width="1.6" />
<line x1="142.12" y1="357.10" x2="142.12" y2="360.10" stroke="#000" stroke-width="1.6" />
<line x1="149.00" y1="357.10" x2="149.00" y2="361.70" stroke="#000" stroke-width="1.6" />
<line x1="155.88" y1="357.10" x2="155.88" y2="360.10" stroke="#000" stroke-width="1.6" />
<line x1="162.76" y1="357.10" x2="162.76" y2="360.10" stroke="#000" stroke-width="1.6" />
<line x1="169.64" y1="357.10" x2="169.64" y2="360.10" stroke="#000" stroke-width="1.6" />
<line x1="176.52" y1="357.10" x2="176.52" y2="360.10" stroke="#000" stroke-width="1.6" />
<line x1="183.40" y1="357.10" x2="183.40" y2="361.70" stroke="#000" stroke-width="1.6" />
<line x1="190.28" y1="357.10" x2="190.28" y2="360.10" stroke="#000" stroke-width="1.6" />
<line x1="197.16" y1="357.10" x2="197.16" y2="360.10" stroke="#000" stroke-width="1.6" />
<line x1="204.04" y1="357.10" x2="204.04" y2="360.10" stroke="#000" stroke-width="1.6" />
<line x1="210.92" y1="357.10" x2="210.92" y2="360.10" stroke="#000" stroke-width="1.6" />
<line x1="217.80" y1="357.10" x2="217.80" y2="361.70" stroke="#000" stroke-width="1.6" />
<line x1="224.68" y1="357.10" x2="224.68" y2="360.10" stroke="#000" stroke-width="1.6" />
<line x1="231.56" y1="357.10" x2="231.56" y2="360.10" stroke="#000" stroke-width="1.6" />
<text x="34.84" y="360.80" font-size="10.60" font-weight="bold" textLength="5.90" lengthAdjust="spacingAndGlyphs">0</text>
<text x="28.94" y="335.72" font-size="10.60" font-weight="bold" textLength="11.79" lengthAdjust="spacingAndGlyphs">20</text>
<text x="28.94" y="310.64" font-size="10.60" font-weight="bold" textLength="11.79" lengthAdjust="spacingAndGlyphs">40</text>
<text x="28.94" y="285.56" font-size="10.60" font-weight="bold" textLength="11.79" lengthAdjust="spacingAndGlyphs">60</text>
<text x="28.94" y="260.48" font-size="10.60" font-weight="bold" textLength="11.79" lengthAdjust="spacingAndGlyphs">80</text>
<text x="23.05" y="235.40" font-size="10.60" font-weight="bold" textLength="17.69" lengthAdjust="spacingAndGlyphs">100</text>
<text x="40.00" y="372.20" font-size="10.60" font-weight="bold" textLength="11.79" lengthAdjust="spacingAndGlyphs">30</text>
<text x="74.44" y="372.20" font-size="10.60" font-weight="bold" textLength="11.79" lengthAdjust="spacingAndGlyphs">40</text>
<text x="108.76" y="372.20" font-size="10.60" font-weight="bold" textLength="11.79" lengthAdjust="spacingAndGlyphs">50</text>
<text x="143.13" y="372.20" font-size="10.60" font-weight="bold" textLength="11.79" lengthAdjust="spacingAndGlyphs">60</text>
<text x="177.49" y="372.20" font-size="10.60" font-weight="bold" textLength="11.79" lengthAdjust="spacingAndGlyphs">70</text>
<text x="211.95" y="372.20" font-size="10.60" font-weight="bold" textLength="11.79" lengthAdjust="spacingAndGlyphs">80</text>
<text transform="translate(16.00,347.60) rotate(-90)" x="-0.82" y="0" font-size="12.00" font-weight="bold" textLength="109.83" lengthAdjust="spacingAndGlyphs">Percent diagnosed</text>
<text x="107.70" y="389.20" font-size="12.00" font-weight="bold" textLength="65.19" lengthAdjust="spacingAndGlyphs">Age (years)</text>
<line x1="68.70" y1="247.10" x2="83.60" y2="247.10" stroke="#000" stroke-width="1.6" stroke-dasharray="1.6 2.2"/>
<path d="M73.00 250.40L76.15 243.80L79.30 250.40Z" fill="#000"/>
<text x="90.81" y="253.20" font-size="12.60" font-weight="bold" textLength="20.39" lengthAdjust="spacingAndGlyphs">AID</text>
<rect x="111.30" y="244.60" width="3.80" height="1.6" fill="#000"/>
<line x1="68.70" y1="262.70" x2="84.50" y2="262.70" stroke="#000" stroke-width="1.5" />
<path d="M73.85 260.10L79.35 260.10L76.60 265.30Z" fill="#fff" stroke="#000" stroke-width="1.1" stroke-linejoin="miter"/>
<text x="90.81" y="269.60" font-size="12.60" font-weight="bold" textLength="20.39" lengthAdjust="spacingAndGlyphs">AID</text>
<rect x="112.90" y="260.20" width="5.00" height="1.60" fill="#000"/>
<rect x="114.60" y="258.50" width="1.60" height="5.00" fill="#000"/>
<text x="201.33" y="276.30" font-size="11.30" font-weight="normal" textLength="17.55" lengthAdjust="spacingAndGlyphs">n/s</text>
<path d="M59.40 355.20H70.00V353.20H103.80V351.50" fill="none" stroke="#000" stroke-width="1.5" stroke-dasharray="1.6 2.2"/>
<path d="M103.80 351.50H107.70V347.70H110.80V343.80H113.10V340.00H115.40V336.20H118.50V333.10H121.50V330.00H124.60V326.90H126.90V325.40H130.50V320.00H134.60V314.60H138.50V312.30H144.60V304.60H147.70V300.00H152.30V294.60H156.90V288.50H160.60V283.90H165.00V279.30H169.50V273.80H173.30V263.30H178.90V256.20H181.20V252.70H184.70V248.30H193.90V246.90H197.40V243.50H200.80V240.00H205.50V236.50H213.50V234.20H218.20V231.90" fill="none" stroke="#000" stroke-width="1.5" stroke-dasharray="1.6 2.2"/>
<path d="M69.50 354.40H75.80V349.60H79.60V346.90H83.50V344.80H87.30V343.40H96.90V340.80H100.80V339.20H105.40V338.50H108.50V336.20H110.80V334.60H114.60V330.80H117.70V328.50H121.50V321.50H123.80V313.80H127.70V308.50H131.50V305.40H134.60V300.80H138.50V296.90H141.90V286.40H146.60V284.00H151.20V280.40H155.80V278.10H159.30V272.30H162.70V270.00H167.30V263.10H170.80V259.60H176.60V253.90H183.50V248.10H189.30V243.50H197.40V238.90H202.00V236.50H206.60V234.20H213.50V231.90H223.90V229.80" fill="none" stroke="#000" stroke-width="1.5" />
<path d="M100.65 354.80L103.80 348.20L106.95 354.80Z" fill="#000"/>
<path d="M104.55 351.00L107.70 344.40L110.85 351.00Z" fill="#000"/>
<path d="M107.65 347.10L110.80 340.50L113.95 347.10Z" fill="#000"/>
<path d="M109.95 343.30L113.10 336.70L116.25 343.30Z" fill="#000"/>
<path d="M112.25 339.50L115.40 332.90L118.55 339.50Z" fill="#000"/>
<path d="M115.35 336.40L118.50 329.80L121.65 336.40Z" fill="#000"/>
<path d="M118.35 333.30L121.50 326.70L124.65 333.30Z" fill="#000"/>
<path d="M121.45 330.20L124.60 323.60L127.75 330.20Z" fill="#000"/>
<path d="M123.75 328.70L126.90 322.10L130.05 328.70Z" fill="#000"/>
<path d="M127.35 323.30L130.50 316.70L133.65 323.30Z" fill="#000"/>
<path d="M131.45 317.90L134.60 311.30L137.75 317.90Z" fill="#000"/>
<path d="M135.35 315.60L138.50 309.00L141.65 315.60Z" fill="#000"/>
<path d="M141.45 307.90L144.60 301.30L147.75 307.90Z" fill="#000"/>
<path d="M144.55 303.30L147.70 296.70L150.85 303.30Z" fill="#000"/>
<path d="M149.15 297.90L152.30 291.30L155.45 297.90Z" fill="#000"/>
<path d="M153.75 291.80L156.90 285.20L160.05 291.80Z" fill="#000"/>
<path d="M157.45 287.20L160.60 280.60L163.75 287.20Z" fill="#000"/>
<path d="M161.85 282.60L165.00 276.00L168.15 282.60Z" fill="#000"/>
<path d="M166.35 277.10L169.50 270.50L172.65 277.10Z" fill="#000"/>
<path d="M170.15 266.60L173.30 260.00L176.45 266.60Z" fill="#000"/>
<path d="M175.75 259.50L178.90 252.90L182.05 259.50Z" fill="#000"/>
<path d="M178.05 256.00L181.20 249.40L184.35 256.00Z" fill="#000"/>
<path d="M181.55 251.60L184.70 245.00L187.85 251.60Z" fill="#000"/>
<path d="M190.75 250.20L193.90 243.60L197.05 250.20Z" fill="#000"/>
<path d="M194.25 246.80L197.40 240.20L200.55 246.80Z" fill="#000"/>
<path d="M197.65 243.30L200.80 236.70L203.95 243.30Z" fill="#000"/>
<path d="M202.35 239.80L205.50 233.20L208.65 239.80Z" fill="#000"/>
<path d="M210.35 237.50L213.50 230.90L216.65 237.50Z" fill="#000"/>
<path d="M215.05 235.20L218.20 228.60L221.35 235.20Z" fill="#000"/>
<path d="M66.75 351.80L72.25 351.80L69.50 357.00Z" fill="#fff" stroke="#000" stroke-width="1.1" stroke-linejoin="miter"/>
<path d="M73.05 347.00L78.55 347.00L75.80 352.20Z" fill="#fff" stroke="#000" stroke-width="1.1" stroke-linejoin="miter"/>
<path d="M76.85 344.30L82.35 344.30L79.60 349.50Z" fill="#fff" stroke="#000" stroke-width="1.1" stroke-linejoin="miter"/>
<path d="M80.75 342.20L86.25 342.20L83.50 347.40Z" fill="#fff" stroke="#000" stroke-width="1.1" stroke-linejoin="miter"/>
<path d="M84.55 340.80L90.05 340.80L87.30 346.00Z" fill="#fff" stroke="#000" stroke-width="1.1" stroke-linejoin="miter"/>
<path d="M94.15 338.20L99.65 338.20L96.90 343.40Z" fill="#fff" stroke="#000" stroke-width="1.1" stroke-linejoin="miter"/>
<path d="M98.05 336.60L103.55 336.60L100.80 341.80Z" fill="#fff" stroke="#000" stroke-width="1.1" stroke-linejoin="miter"/>
<path d="M102.65 335.90L108.15 335.90L105.40 341.10Z" fill="#fff" stroke="#000" stroke-width="1.1" stroke-linejoin="miter"/>
<path d="M105.75 333.60L111.25 333.60L108.50 338.80Z" fill="#fff" stroke="#000" stroke-width="1.1" stroke-linejoin="miter"/>
<path d="M108.05 332.00L113.55 332.00L110.80 337.20Z" fill="#fff" stroke="#000" stroke-width="1.1" stroke-linejoin="miter"/>
<path d="M111.85 328.20L117.35 328.20L114.60 333.40Z" fill="#fff" stroke="#000" stroke-width="1.1" stroke-linejoin="miter"/>
<path d="M114.95 325.90L120.45 325.90L117.70 331.10Z" fill="#fff" stroke="#000" stroke-width="1.1" stroke-linejoin="miter"/>
<path d="M118.75 318.90L124.25 318.90L121.50 324.10Z" fill="#fff" stroke="#000" stroke-width="1.1" stroke-linejoin="miter"/>
<path d="M121.05 311.20L126.55 311.20L123.80 316.40Z" fill="#fff" stroke="#000" stroke-width="1.1" stroke-linejoin="miter"/>
<path d="M124.95 305.90L130.45 305.90L127.70 311.10Z" fill="#fff" stroke="#000" stroke-width="1.1" stroke-linejoin="miter"/>
<path d="M128.75 302.80L134.25 302.80L131.50 308.00Z" fill="#fff" stroke="#000" stroke-width="1.1" stroke-linejoin="miter"/>
<path d="M131.85 298.20L137.35 298.20L134.60 303.40Z" fill="#fff" stroke="#000" stroke-width="1.1" stroke-linejoin="miter"/>
<path d="M135.75 294.30L141.25 294.30L138.50 299.50Z" fill="#fff" stroke="#000" stroke-width="1.1" stroke-linejoin="miter"/>
<path d="M139.15 283.80L144.65 283.80L141.90 289.00Z" fill="#fff" stroke="#000" stroke-width="1.1" stroke-linejoin="miter"/>
<path d="M143.85 281.40L149.35 281.40L146.60 286.60Z" fill="#fff" stroke="#000" stroke-width="1.1" stroke-linejoin="miter"/>
<path d="M148.45 277.80L153.95 277.80L151.20 283.00Z" fill="#fff" stroke="#000" stroke-width="1.1" stroke-linejoin="miter"/>
<path d="M153.05 275.50L158.55 275.50L155.80 280.70Z" fill="#fff" stroke="#000" stroke-width="1.1" stroke-linejoin="miter"/>
<path d="M156.55 269.70L162.05 269.70L159.30 274.90Z" fill="#fff" stroke="#000" stroke-width="1.1" stroke-linejoin="miter"/>
<path d="M159.95 267.40L165.45 267.40L162.70 272.60Z" fill="#fff" stroke="#000" stroke-width="1.1" stroke-linejoin="miter"/>
<path d="M164.55 260.50L170.05 260.50L167.30 265.70Z" fill="#fff" stroke="#000" stroke-width="1.1" stroke-linejoin="miter"/>
<path d="M168.05 257.00L173.55 257.00L170.80 262.20Z" fill="#fff" stroke="#000" stroke-width="1.1" stroke-linejoin="miter"/>
<path d="M173.85 251.30L179.35 251.30L176.60 256.50Z" fill="#fff" stroke="#000" stroke-width="1.1" stroke-linejoin="miter"/>
<path d="M180.75 245.50L186.25 245.50L183.50 250.70Z" fill="#fff" stroke="#000" stroke-width="1.1" stroke-linejoin="miter"/>
<path d="M186.55 240.90L192.05 240.90L189.30 246.10Z" fill="#fff" stroke="#000" stroke-width="1.1" stroke-linejoin="miter"/>
<path d="M194.65 236.30L200.15 236.30L197.40 241.50Z" fill="#fff" stroke="#000" stroke-width="1.1" stroke-linejoin="miter"/>
<path d="M199.25 233.90L204.75 233.90L202.00 239.10Z" fill="#fff" stroke="#000" stroke-width="1.1" stroke-linejoin="miter"/>
<path d="M203.85 231.60L209.35 231.60L206.60 236.80Z" fill="#fff" stroke="#000" stroke-width="1.1" stroke-linejoin="miter"/>
<path d="M210.75 229.30L216.25 229.30L213.50 234.50Z" fill="#fff" stroke="#000" stroke-width="1.1" stroke-linejoin="miter"/>
<path d="M221.15 227.20L226.65 227.20L223.90 232.40Z" fill="#fff" stroke="#000" stroke-width="1.1" stroke-linejoin="miter"/>
<line x1="320.60" y1="232.00" x2="320.60" y2="358.50" stroke="#000" stroke-width="2" />
<line x1="316.10" y1="357.50" x2="320.60" y2="357.50" stroke="#000" stroke-width="1.6" />
<line x1="317.80" y1="351.23" x2="320.60" y2="351.23" stroke="#000" stroke-width="1.6" />
<line x1="317.80" y1="344.95" x2="320.60" y2="344.95" stroke="#000" stroke-width="1.6" />
<line x1="317.80" y1="338.68" x2="320.60" y2="338.68" stroke="#000" stroke-width="1.6" />
<line x1="316.10" y1="332.40" x2="320.60" y2="332.40" stroke="#000" stroke-width="1.6" />
<line x1="317.80" y1="326.12" x2="320.60" y2="326.12" stroke="#000" stroke-width="1.6" />
<line x1="317.80" y1="319.85" x2="320.60" y2="319.85" stroke="#000" stroke-width="1.6" />
<line x1="317.80" y1="313.57" x2="320.60" y2="313.57" stroke="#000" stroke-width="1.6" />
<line x1="316.10" y1="307.30" x2="320.60" y2="307.30" stroke="#000" stroke-width="1.6" />
<line x1="317.80" y1="301.02" x2="320.60" y2="301.02" stroke="#000" stroke-width="1.6" />
<line x1="317.80" y1="294.75" x2="320.60" y2="294.75" stroke="#000" stroke-width="1.6" />
<line x1="317.80" y1="288.48" x2="320.60" y2="288.48" stroke="#000" stroke-width="1.6" />
<line x1="316.10" y1="282.20" x2="320.60" y2="282.20" stroke="#000" stroke-width="1.6" />
<line x1="317.80" y1="275.93" x2="320.60" y2="275.93" stroke="#000" stroke-width="1.6" />
<line x1="317.80" y1="269.65" x2="320.60" y2="269.65" stroke="#000" stroke-width="1.6" />
<line x1="317.80" y1="263.38" x2="320.60" y2="263.38" stroke="#000" stroke-width="1.6" />
<line x1="316.10" y1="257.10" x2="320.60" y2="257.10" stroke="#000" stroke-width="1.6" />
<line x1="317.80" y1="250.82" x2="320.60" y2="250.82" stroke="#000" stroke-width="1.6" />
<line x1="317.80" y1="244.55" x2="320.60" y2="244.55" stroke="#000" stroke-width="1.6" />
<line x1="317.80" y1="238.28" x2="320.60" y2="238.28" stroke="#000" stroke-width="1.6" />
<line x1="316.10" y1="232.00" x2="320.60" y2="232.00" stroke="#000" stroke-width="1.6" />
<line x1="319.60" y1="357.50" x2="510.50" y2="357.50" stroke="#000" stroke-width="2" />
<line x1="320.80" y1="357.50" x2="320.80" y2="362.10" stroke="#000" stroke-width="1.6" />
<line x1="327.06" y1="357.50" x2="327.06" y2="360.50" stroke="#000" stroke-width="1.6" />
<line x1="333.32" y1="357.50" x2="333.32" y2="360.50" stroke="#000" stroke-width="1.6" />
<line x1="339.58" y1="357.50" x2="339.58" y2="360.50" stroke="#000" stroke-width="1.6" />
<line x1="345.84" y1="357.50" x2="345.84" y2="360.50" stroke="#000" stroke-width="1.6" />
<line x1="352.10" y1="357.50" x2="352.10" y2="362.10" stroke="#000" stroke-width="1.6" />
<line x1="358.36" y1="357.50" x2="358.36" y2="360.50" stroke="#000" stroke-width="1.6" />
<line x1="364.62" y1="357.50" x2="364.62" y2="360.50" stroke="#000" stroke-width="1.6" />
<line x1="370.88" y1="357.50" x2="370.88" y2="360.50" stroke="#000" stroke-width="1.6" />
<line x1="377.14" y1="357.50" x2="377.14" y2="360.50" stroke="#000" stroke-width="1.6" />
<line x1="383.40" y1="357.50" x2="383.40" y2="362.10" stroke="#000" stroke-width="1.6" />
<line x1="389.66" y1="357.50" x2="389.66" y2="360.50" stroke="#000" stroke-width="1.6" />
<line x1="395.92" y1="357.50" x2="395.92" y2="360.50" stroke="#000" stroke-width="1.6" />
<line x1="402.18" y1="357.50" x2="402.18" y2="360.50" stroke="#000" stroke-width="1.6" />
<line x1="408.44" y1="357.50" x2="408.44" y2="360.50" stroke="#000" stroke-width="1.6" />
<line x1="414.70" y1="357.50" x2="414.70" y2="362.10" stroke="#000" stroke-width="1.6" />
<line x1="420.96" y1="357.50" x2="420.96" y2="360.50" stroke="#000" stroke-width="1.6" />
<line x1="427.22" y1="357.50" x2="427.22" y2="360.50" stroke="#000" stroke-width="1.6" />
<line x1="433.48" y1="357.50" x2="433.48" y2="360.50" stroke="#000" stroke-width="1.6" />
<line x1="439.74" y1="357.50" x2="439.74" y2="360.50" stroke="#000" stroke-width="1.6" />
<line x1="446.00" y1="357.50" x2="446.00" y2="362.10" stroke="#000" stroke-width="1.6" />
<line x1="452.26" y1="357.50" x2="452.26" y2="360.50" stroke="#000" stroke-width="1.6" />
<line x1="458.52" y1="357.50" x2="458.52" y2="360.50" stroke="#000" stroke-width="1.6" />
<line x1="464.78" y1="357.50" x2="464.78" y2="360.50" stroke="#000" stroke-width="1.6" />
<line x1="471.04" y1="357.50" x2="471.04" y2="360.50" stroke="#000" stroke-width="1.6" />
<line x1="477.30" y1="357.50" x2="477.30" y2="362.10" stroke="#000" stroke-width="1.6" />
<line x1="483.56" y1="357.50" x2="483.56" y2="360.50" stroke="#000" stroke-width="1.6" />
<line x1="489.82" y1="357.50" x2="489.82" y2="360.50" stroke="#000" stroke-width="1.6" />
<line x1="496.08" y1="357.50" x2="496.08" y2="360.50" stroke="#000" stroke-width="1.6" />
<line x1="502.34" y1="357.50" x2="502.34" y2="360.50" stroke="#000" stroke-width="1.6" />
<line x1="508.60" y1="357.50" x2="508.60" y2="362.10" stroke="#000" stroke-width="1.6" />
<text x="310.54" y="361.20" font-size="10.60" font-weight="bold" textLength="5.90" lengthAdjust="spacingAndGlyphs">0</text>
<text x="304.64" y="336.10" font-size="10.60" font-weight="bold" textLength="11.79" lengthAdjust="spacingAndGlyphs">20</text>
<text x="304.64" y="311.00" font-size="10.60" font-weight="bold" textLength="11.79" lengthAdjust="spacingAndGlyphs">40</text>
<text x="304.64" y="285.90" font-size="10.60" font-weight="bold" textLength="11.79" lengthAdjust="spacingAndGlyphs">60</text>
<text x="304.64" y="260.80" font-size="10.60" font-weight="bold" textLength="11.79" lengthAdjust="spacingAndGlyphs">80</text>
<text x="298.75" y="235.70" font-size="10.60" font-weight="bold" textLength="17.69" lengthAdjust="spacingAndGlyphs">100</text>
<text x="315.04" y="372.30" font-size="10.60" font-weight="bold" textLength="11.79" lengthAdjust="spacingAndGlyphs">40</text>
<text x="346.26" y="372.30" font-size="10.60" font-weight="bold" textLength="11.79" lengthAdjust="spacingAndGlyphs">50</text>
<text x="377.53" y="372.30" font-size="10.60" font-weight="bold" textLength="11.79" lengthAdjust="spacingAndGlyphs">60</text>
<text x="408.79" y="372.30" font-size="10.60" font-weight="bold" textLength="11.79" lengthAdjust="spacingAndGlyphs">70</text>
<text x="440.15" y="372.30" font-size="10.60" font-weight="bold" textLength="11.79" lengthAdjust="spacingAndGlyphs">80</text>
<text x="471.44" y="372.30" font-size="10.60" font-weight="bold" textLength="11.79" lengthAdjust="spacingAndGlyphs">90</text>
<text x="499.64" y="372.30" font-size="10.60" font-weight="bold" textLength="17.69" lengthAdjust="spacingAndGlyphs">100</text>
<text transform="translate(291.10,339.30) rotate(-90)" x="-0.81" y="0" font-size="12.20" font-weight="bold" textLength="93.47" lengthAdjust="spacingAndGlyphs">Percent survival</text>
<text x="357.39" y="389.60" font-size="12.40" font-weight="bold" textLength="117.22" lengthAdjust="spacingAndGlyphs">Age at death (years)</text>
<line x1="337.90" y1="326.20" x2="352.60" y2="326.20" stroke="#000" stroke-width="1.6" stroke-dasharray="1.6 2.2"/>
<path d="M342.10 329.50L345.25 322.90L348.40 329.50Z" fill="#000"/>
<text x="360.31" y="332.50" font-size="12.00" font-weight="bold" textLength="20.18" lengthAdjust="spacingAndGlyphs">AID</text>
<rect x="380.90" y="323.60" width="3.50" height="1.6" fill="#000"/>
<line x1="337.90" y1="341.30" x2="353.50" y2="341.30" stroke="#000" stroke-width="1.5" />
<path d="M342.95 338.70L348.45 338.70L345.70 343.90Z" fill="#fff" stroke="#000" stroke-width="1.1" stroke-linejoin="miter"/>
<text x="360.31" y="347.30" font-size="12.00" font-weight="bold" textLength="20.18" lengthAdjust="spacingAndGlyphs">AID</text>
<rect x="381.50" y="337.80" width="5.00" height="1.60" fill="#000"/>
<rect x="383.20" y="336.10" width="1.60" height="5.00" fill="#000"/>
<text x="490.16" y="328.03" font-size="16.8" font-weight="bold">*</text>
<text x="499.21" y="328.03" font-size="16.8" font-weight="bold">*</text>
<text x="508.26" y="328.03" font-size="16.8" font-weight="bold">*</text>
<path d="M328.00 233.50H337.00V233.50H349.00V233.50H365.40V235.80H386.60V237.60H390.00V237.60H393.80V237.60H399.20V237.60H402.30V237.60H405.40V239.60H409.20V239.60H412.30V239.60H417.70V239.60H420.80V239.60H424.60V243.50H427.70V252.70H431.50V259.60H434.60V261.90H437.70V262.70H440.80V265.80H443.80V275.00H450.00V278.40H453.10V278.40H456.90V297.00H460.00V297.00H462.30V313.80H466.00V328.50H471.50V328.50H481.00V328.50H484.50V328.50" fill="none" stroke="#000" stroke-width="1.5" stroke-dasharray="1.6 2.2"/>
<path d="M328.00 233.50H342.30V234.80H345.80V238.10H348.70V238.70H358.50V241.50H374.60V244.40H377.50V246.10H387.30V250.20H390.20V252.50H393.10V257.10H396.50V259.40H398.60V261.70H401.20V263.60H403.50V268.50H408.80V271.50H411.20V275.40H412.70V280.00H415.00V283.10H418.10V286.20H421.20V290.00H425.00V294.60H427.70V305.40H430.80V309.20H432.60V310.60H435.20V314.70H441.20V316.40H443.80V319.00H447.30V321.60H451.60V322.50H455.00V323.40H456.80V326.80H459.40V335.50H462.00V342.40H465.50V346.70H471.50V352.60H494.30V356.20" fill="none" stroke="#000" stroke-width="1.5" />
<path d="M333.85 236.80L337.00 230.20L340.15 236.80Z" fill="#000"/>
<path d="M345.85 236.80L349.00 230.20L352.15 236.80Z" fill="#000"/>
<path d="M362.25 239.10L365.40 232.50L368.55 239.10Z" fill="#000"/>
<path d="M383.45 240.90L386.60 234.30L389.75 240.90Z" fill="#000"/>
<path d="M386.85 240.90L390.00 234.30L393.15 240.90Z" fill="#000"/>
<path d="M390.65 240.90L393.80 234.30L396.95 240.90Z" fill="#000"/>
<path d="M396.05 240.90L399.20 234.30L402.35 240.90Z" fill="#000"/>
<path d="M399.15 240.90L402.30 234.30L405.45 240.90Z" fill="#000"/>
<path d="M402.25 242.90L405.40 236.30L408.55 242.90Z" fill="#000"/>
<path d="M406.05 242.90L409.20 236.30L412.35 242.90Z" fill="#000"/>
<path d="M409.15 242.90L412.30 236.30L415.45 242.90Z" fill="#000"/>
<path d="M414.55 242.90L417.70 236.30L420.85 242.90Z" fill="#000"/>
<path d="M417.65 242.90L420.80 236.30L423.95 242.90Z" fill="#000"/>
<path d="M421.45 246.80L424.60 240.20L427.75 246.80Z" fill="#000"/>
<path d="M424.55 256.00L427.70 249.40L430.85 256.00Z" fill="#000"/>
<path d="M428.35 262.90L431.50 256.30L434.65 262.90Z" fill="#000"/>
<path d="M431.45 265.20L434.60 258.60L437.75 265.20Z" fill="#000"/>
<path d="M434.55 266.00L437.70 259.40L440.85 266.00Z" fill="#000"/>
<path d="M437.65 269.10L440.80 262.50L443.95 269.10Z" fill="#000"/>
<path d="M440.65 278.30L443.80 271.70L446.95 278.30Z" fill="#000"/>
<path d="M446.85 281.70L450.00 275.10L453.15 281.70Z" fill="#000"/>
<path d="M449.95 281.70L453.10 275.10L456.25 281.70Z" fill="#000"/>
<path d="M453.75 300.30L456.90 293.70L460.05 300.30Z" fill="#000"/>
<path d="M456.85 300.30L460.00 293.70L463.15 300.30Z" fill="#000"/>
<path d="M459.15 317.10L462.30 310.50L465.45 317.10Z" fill="#000"/>
<path d="M462.85 331.80L466.00 325.20L469.15 331.80Z" fill="#000"/>
<path d="M468.35 331.80L471.50 325.20L474.65 331.80Z" fill="#000"/>
<path d="M477.85 331.80L481.00 325.20L484.15 331.80Z" fill="#000"/>
<path d="M481.35 331.80L484.50 325.20L487.65 331.80Z" fill="#000"/>
<path d="M339.55 232.20L345.05 232.20L342.30 237.40Z" fill="#fff" stroke="#000" stroke-width="1.1" stroke-linejoin="miter"/>
<path d="M343.05 235.50L348.55 235.50L345.80 240.70Z" fill="#fff" stroke="#000" stroke-width="1.1" stroke-linejoin="miter"/>
<path d="M345.95 236.10L351.45 236.10L348.70 241.30Z" fill="#fff" stroke="#000" stroke-width="1.1" stroke-linejoin="miter"/>
<path d="M355.75 238.90L361.25 238.90L358.50 244.10Z" fill="#fff" stroke="#000" stroke-width="1.1" stroke-linejoin="miter"/>
<path d="M371.85 241.80L377.35 241.80L374.60 247.00Z" fill="#fff" stroke="#000" stroke-width="1.1" stroke-linejoin="miter"/>
<path d="M374.75 243.50L380.25 243.50L377.50 248.70Z" fill="#fff" stroke="#000" stroke-width="1.1" stroke-linejoin="miter"/>
<path d="M384.55 247.60L390.05 247.60L387.30 252.80Z" fill="#fff" stroke="#000" stroke-width="1.1" stroke-linejoin="miter"/>
<path d="M387.45 249.90L392.95 249.90L390.20 255.10Z" fill="#fff" stroke="#000" stroke-width="1.1" stroke-linejoin="miter"/>
<path d="M390.35 254.50L395.85 254.50L393.10 259.70Z" fill="#fff" stroke="#000" stroke-width="1.1" stroke-linejoin="miter"/>
<path d="M393.75 256.80L399.25 256.80L396.50 262.00Z" fill="#fff" stroke="#000" stroke-width="1.1" stroke-linejoin="miter"/>
<path d="M395.85 259.10L401.35 259.10L398.60 264.30Z" fill="#fff" stroke="#000" stroke-width="1.1" stroke-linejoin="miter"/>
<path d="M398.45 261.00L403.95 261.00L401.20 266.20Z" fill="#fff" stroke="#000" stroke-width="1.1" stroke-linejoin="miter"/>
<path d="M400.75 265.90L406.25 265.90L403.50 271.10Z" fill="#fff" stroke="#000" stroke-width="1.1" stroke-linejoin="miter"/>
<path d="M406.05 268.90L411.55 268.90L408.80 274.10Z" fill="#fff" stroke="#000" stroke-width="1.1" stroke-linejoin="miter"/>
<path d="M408.45 272.80L413.95 272.80L411.20 278.00Z" fill="#fff" stroke="#000" stroke-width="1.1" stroke-linejoin="miter"/>
<path d="M409.95 277.40L415.45 277.40L412.70 282.60Z" fill="#fff" stroke="#000" stroke-width="1.1" stroke-linejoin="miter"/>
<path d="M412.25 280.50L417.75 280.50L415.00 285.70Z" fill="#fff" stroke="#000" stroke-width="1.1" stroke-linejoin="miter"/>
<path d="M415.35 283.60L420.85 283.60L418.10 288.80Z" fill="#fff" stroke="#000" stroke-width="1.1" stroke-linejoin="miter"/>
<path d="M418.45 287.40L423.95 287.40L421.20 292.60Z" fill="#fff" stroke="#000" stroke-width="1.1" stroke-linejoin="miter"/>
<path d="M422.25 292.00L427.75 292.00L425.00 297.20Z" fill="#fff" stroke="#000" stroke-width="1.1" stroke-linejoin="miter"/>
<path d="M424.95 302.80L430.45 302.80L427.70 308.00Z" fill="#fff" stroke="#000" stroke-width="1.1" stroke-linejoin="miter"/>
<path d="M428.05 306.60L433.55 306.60L430.80 311.80Z" fill="#fff" stroke="#000" stroke-width="1.1" stroke-linejoin="miter"/>
<path d="M429.85 308.00L435.35 308.00L432.60 313.20Z" fill="#fff" stroke="#000" stroke-width="1.1" stroke-linejoin="miter"/>
<path d="M432.45 312.10L437.95 312.10L435.20 317.30Z" fill="#fff" stroke="#000" stroke-width="1.1" stroke-linejoin="miter"/>
<path d="M438.45 313.80L443.95 313.80L441.20 319.00Z" fill="#fff" stroke="#000" stroke-width="1.1" stroke-linejoin="miter"/>
<path d="M441.05 316.40L446.55 316.40L443.80 321.60Z" fill="#fff" stroke="#000" stroke-width="1.1" stroke-linejoin="miter"/>
<path d="M444.55 319.00L450.05 319.00L447.30 324.20Z" fill="#fff" stroke="#000" stroke-width="1.1" stroke-linejoin="miter"/>
<path d="M448.85 319.90L454.35 319.90L451.60 325.10Z" fill="#fff" stroke="#000" stroke-width="1.1" stroke-linejoin="miter"/>
<path d="M452.25 320.80L457.75 320.80L455.00 326.00Z" fill="#fff" stroke="#000" stroke-width="1.1" stroke-linejoin="miter"/>
<path d="M454.05 324.20L459.55 324.20L456.80 329.40Z" fill="#fff" stroke="#000" stroke-width="1.1" stroke-linejoin="miter"/>
<path d="M456.65 332.90L462.15 332.90L459.40 338.10Z" fill="#fff" stroke="#000" stroke-width="1.1" stroke-linejoin="miter"/>
<path d="M459.25 339.80L464.75 339.80L462.00 345.00Z" fill="#fff" stroke="#000" stroke-width="1.1" stroke-linejoin="miter"/>
<path d="M462.75 344.10L468.25 344.10L465.50 349.30Z" fill="#fff" stroke="#000" stroke-width="1.1" stroke-linejoin="miter"/>
<path d="M468.75 350.00L474.25 350.00L471.50 355.20Z" fill="#fff" stroke="#000" stroke-width="1.1" stroke-linejoin="miter"/>
<path d="M491.55 353.60L497.05 353.60L494.30 358.80Z" fill="#fff" stroke="#000" stroke-width="1.1" stroke-linejoin="miter"/>
<line x1="43.00" y1="421.14" x2="43.00" y2="550.80" stroke="#000" stroke-width="2" />
<line x1="38.50" y1="549.80" x2="43.00" y2="549.80" stroke="#000" stroke-width="1.6" />
<line x1="40.20" y1="540.61" x2="43.00" y2="540.61" stroke="#000" stroke-width="1.6" />
<line x1="38.50" y1="531.42" x2="43.00" y2="531.42" stroke="#000" stroke-width="1.6" />
<line x1="40.20" y1="522.23" x2="43.00" y2="522.23" stroke="#000" stroke-width="1.6" />
<line x1="38.50" y1="513.04" x2="43.00" y2="513.04" stroke="#000" stroke-width="1.6" />
<line x1="40.20" y1="503.85" x2="43.00" y2="503.85" stroke="#000" stroke-width="1.6" />
<line x1="38.50" y1="494.66" x2="43.00" y2="494.66" stroke="#000" stroke-width="1.6" />
<line x1="40.20" y1="485.47" x2="43.00" y2="485.47" stroke="#000" stroke-width="1.6" />
<line x1="38.50" y1="476.28" x2="43.00" y2="476.28" stroke="#000" stroke-width="1.6" />
<line x1="40.20" y1="467.09" x2="43.00" y2="467.09" stroke="#000" stroke-width="1.6" />
<line x1="38.50" y1="457.90" x2="43.00" y2="457.90" stroke="#000" stroke-width="1.6" />
<line x1="40.20" y1="448.71" x2="43.00" y2="448.71" stroke="#000" stroke-width="1.6" />
<line x1="38.50" y1="439.52" x2="43.00" y2="439.52" stroke="#000" stroke-width="1.6" />
<line x1="40.20" y1="430.33" x2="43.00" y2="430.33" stroke="#000" stroke-width="1.6" />
<line x1="38.50" y1="421.14" x2="43.00" y2="421.14" stroke="#000" stroke-width="1.6" />
<line x1="42.00" y1="549.80" x2="234.50" y2="549.80" stroke="#000" stroke-width="2" />
<text x="31.94" y="553.50" font-size="10.60" font-weight="bold" textLength="5.90" lengthAdjust="spacingAndGlyphs">0</text>
<text x="26.04" y="535.12" font-size="10.60" font-weight="bold" textLength="11.79" lengthAdjust="spacingAndGlyphs">10</text>
<text x="26.04" y="516.74" font-size="10.60" font-weight="bold" textLength="11.79" lengthAdjust="spacingAndGlyphs">20</text>
<text x="26.04" y="498.36" font-size="10.60" font-weight="bold" textLength="11.79" lengthAdjust="spacingAndGlyphs">30</text>
<text x="26.04" y="479.98" font-size="10.60" font-weight="bold" textLength="11.79" lengthAdjust="spacingAndGlyphs">40</text>
<text x="26.04" y="461.60" font-size="10.60" font-weight="bold" textLength="11.79" lengthAdjust="spacingAndGlyphs">50</text>
<text x="26.04" y="443.22" font-size="10.60" font-weight="bold" textLength="11.79" lengthAdjust="spacingAndGlyphs">60</text>
<text x="26.04" y="424.84" font-size="10.60" font-weight="bold" textLength="11.79" lengthAdjust="spacingAndGlyphs">70</text>
<text transform="translate(15.60,540.40) rotate(-90)" x="-0.83" y="0" font-size="12.40" font-weight="bold" textLength="113.54" lengthAdjust="spacingAndGlyphs">Number of patients</text>
<rect x="67.00" y="448.71" width="48.50" height="31.25" fill="#fff" stroke="#000" stroke-width="2"/>
<rect x="67.00" y="479.96" width="48.50" height="69.84" fill="#a0a0a0" stroke="#000" stroke-width="2"/>
<rect x="163.25" y="428.49" width="47.75" height="80.87" fill="#fff" stroke="#000" stroke-width="2"/>
<rect x="163.25" y="509.36" width="47.75" height="40.44" fill="#a0a0a0" stroke="#000" stroke-width="2"/>
<line x1="42.00" y1="549.80" x2="234.50" y2="549.80" stroke="#000" stroke-width="2" />
<text x="71.73" y="563.25" font-size="12.40" font-weight="bold" textLength="38.67" lengthAdjust="spacingAndGlyphs">U-CLL</text>
<text x="167.15" y="563.25" font-size="12.40" font-weight="bold" textLength="39.49" lengthAdjust="spacingAndGlyphs">M-CLL</text>
<rect x="50.00" y="428.20" width="15.30" height="8.70" fill="#a0a0a0" stroke="#000" stroke-width="2"/>
<text x="72.20" y="438.50" font-size="12.00" font-weight="bold" textLength="20.60" lengthAdjust="spacingAndGlyphs">AID</text>
<rect x="93.80" y="429.00" width="5.00" height="1.60" fill="#000"/>
<rect x="95.50" y="427.30" width="1.60" height="5.00" fill="#000"/>
<rect x="109.10" y="428.20" width="14.70" height="7.90" fill="#fff" stroke="#000" stroke-width="2"/>
<text x="130.81" y="438.50" font-size="11.80" font-weight="bold" textLength="20.39" lengthAdjust="spacingAndGlyphs">AID</text>
<rect x="152.50" y="429.60" width="2.60" height="1.6" fill="#000"/>
<text x="129.76" y="494.73" font-size="16.8" font-weight="bold">*</text>
<text x="138.59" y="494.73" font-size="16.8" font-weight="bold">*</text>
<text x="147.41" y="494.73" font-size="16.8" font-weight="bold">*</text>
<line x1="320.75" y1="420.50" x2="320.75" y2="548.00" stroke="#000" stroke-width="2" />
<line x1="316.25" y1="547.00" x2="320.75" y2="547.00" stroke="#000" stroke-width="1.6" />
<line x1="317.95" y1="540.67" x2="320.75" y2="540.67" stroke="#000" stroke-width="1.6" />
<line x1="317.95" y1="534.35" x2="320.75" y2="534.35" stroke="#000" stroke-width="1.6" />
<line x1="317.95" y1="528.02" x2="320.75" y2="528.02" stroke="#000" stroke-width="1.6" />
<line x1="316.25" y1="521.70" x2="320.75" y2="521.70" stroke="#000" stroke-width="1.6" />
<line x1="317.95" y1="515.38" x2="320.75" y2="515.38" stroke="#000" stroke-width="1.6" />
<line x1="317.95" y1="509.05" x2="320.75" y2="509.05" stroke="#000" stroke-width="1.6" />
<line x1="317.95" y1="502.73" x2="320.75" y2="502.73" stroke="#000" stroke-width="1.6" />
<line x1="316.25" y1="496.40" x2="320.75" y2="496.40" stroke="#000" stroke-width="1.6" />
<line x1="317.95" y1="490.07" x2="320.75" y2="490.07" stroke="#000" stroke-width="1.6" />
<line x1="317.95" y1="483.75" x2="320.75" y2="483.75" stroke="#000" stroke-width="1.6" />
<line x1="317.95" y1="477.43" x2="320.75" y2="477.43" stroke="#000" stroke-width="1.6" />
<line x1="316.25" y1="471.10" x2="320.75" y2="471.10" stroke="#000" stroke-width="1.6" />
<line x1="317.95" y1="464.77" x2="320.75" y2="464.77" stroke="#000" stroke-width="1.6" />
<line x1="317.95" y1="458.45" x2="320.75" y2="458.45" stroke="#000" stroke-width="1.6" />
<line x1="317.95" y1="452.12" x2="320.75" y2="452.12" stroke="#000" stroke-width="1.6" />
<line x1="316.25" y1="445.80" x2="320.75" y2="445.80" stroke="#000" stroke-width="1.6" />
<line x1="317.95" y1="439.48" x2="320.75" y2="439.48" stroke="#000" stroke-width="1.6" />
<line x1="317.95" y1="433.15" x2="320.75" y2="433.15" stroke="#000" stroke-width="1.6" />
<line x1="317.95" y1="426.82" x2="320.75" y2="426.82" stroke="#000" stroke-width="1.6" />
<line x1="316.25" y1="420.50" x2="320.75" y2="420.50" stroke="#000" stroke-width="1.6" />
<line x1="319.75" y1="547.00" x2="509.20" y2="547.00" stroke="#000" stroke-width="2" />
<line x1="320.75" y1="547.00" x2="320.75" y2="551.60" stroke="#000" stroke-width="1.6" />
<line x1="330.08" y1="547.00" x2="330.08" y2="550.00" stroke="#000" stroke-width="1.6" />
<line x1="339.41" y1="547.00" x2="339.41" y2="550.00" stroke="#000" stroke-width="1.6" />
<line x1="348.75" y1="547.00" x2="348.75" y2="550.00" stroke="#000" stroke-width="1.6" />
<line x1="358.08" y1="547.00" x2="358.08" y2="550.00" stroke="#000" stroke-width="1.6" />
<line x1="367.41" y1="547.00" x2="367.41" y2="551.60" stroke="#000" stroke-width="1.6" />
<line x1="376.74" y1="547.00" x2="376.74" y2="550.00" stroke="#000" stroke-width="1.6" />
<line x1="386.07" y1="547.00" x2="386.07" y2="550.00" stroke="#000" stroke-width="1.6" />
<line x1="395.41" y1="547.00" x2="395.41" y2="550.00" stroke="#000" stroke-width="1.6" />
<line x1="404.74" y1="547.00" x2="404.74" y2="550.00" stroke="#000" stroke-width="1.6" />
<line x1="414.07" y1="547.00" x2="414.07" y2="551.60" stroke="#000" stroke-width="1.6" />
<line x1="423.40" y1="547.00" x2="423.40" y2="550.00" stroke="#000" stroke-width="1.6" />
<line x1="432.73" y1="547.00" x2="432.73" y2="550.00" stroke="#000" stroke-width="1.6" />
<line x1="442.07" y1="547.00" x2="442.07" y2="550.00" stroke="#000" stroke-width="1.6" />
<line x1="451.40" y1="547.00" x2="451.40" y2="550.00" stroke="#000" stroke-width="1.6" />
<line x1="460.73" y1="547.00" x2="460.73" y2="551.60" stroke="#000" stroke-width="1.6" />
<line x1="470.06" y1="547.00" x2="470.06" y2="550.00" stroke="#000" stroke-width="1.6" />
<line x1="479.39" y1="547.00" x2="479.39" y2="550.00" stroke="#000" stroke-width="1.6" />
<line x1="488.73" y1="547.00" x2="488.73" y2="550.00" stroke="#000" stroke-width="1.6" />
<line x1="498.06" y1="547.00" x2="498.06" y2="550.00" stroke="#000" stroke-width="1.6" />
<line x1="507.39" y1="547.00" x2="507.39" y2="551.60" stroke="#000" stroke-width="1.6" />
<text x="309.54" y="550.70" font-size="10.60" font-weight="bold" textLength="5.90" lengthAdjust="spacingAndGlyphs">0</text>
<text x="303.64" y="525.40" font-size="10.60" font-weight="bold" textLength="11.79" lengthAdjust="spacingAndGlyphs">20</text>
<text x="303.64" y="500.10" font-size="10.60" font-weight="bold" textLength="11.79" lengthAdjust="spacingAndGlyphs">40</text>
<text x="303.64" y="474.80" font-size="10.60" font-weight="bold" textLength="11.79" lengthAdjust="spacingAndGlyphs">60</text>
<text x="303.64" y="449.50" font-size="10.60" font-weight="bold" textLength="11.79" lengthAdjust="spacingAndGlyphs">80</text>
<text x="297.75" y="424.20" font-size="10.60" font-weight="bold" textLength="17.69" lengthAdjust="spacingAndGlyphs">100</text>
<text x="317.81" y="561.30" font-size="10.60" font-weight="bold" textLength="5.90" lengthAdjust="spacingAndGlyphs">0</text>
<text x="358.45" y="561.30" font-size="10.60" font-weight="bold" textLength="17.69" lengthAdjust="spacingAndGlyphs">100</text>
<text x="405.26" y="561.30" font-size="10.60" font-weight="bold" textLength="17.69" lengthAdjust="spacingAndGlyphs">200</text>
<text x="451.98" y="561.30" font-size="10.60" font-weight="bold" textLength="17.69" lengthAdjust="spacingAndGlyphs">300</text>
<text x="498.68" y="561.30" font-size="10.60" font-weight="bold" textLength="17.69" lengthAdjust="spacingAndGlyphs">400</text>
<text transform="translate(292.00,528.70) rotate(-90)" x="-0.82" y="0" font-size="12.30" font-weight="bold" textLength="94.79" lengthAdjust="spacingAndGlyphs">Percent survival</text>
<text x="393.58" y="578.50" font-size="12.20" font-weight="bold" textLength="43.52" lengthAdjust="spacingAndGlyphs">Months</text>
<line x1="327.50" y1="516.50" x2="342.10" y2="516.50" stroke="#000" stroke-width="1.6" stroke-dasharray="1.6 2.2"/>
<path d="M331.65 519.80L334.80 513.20L337.95 519.80Z" fill="#000"/>
<text x="349.81" y="523.20" font-size="11.60" font-weight="bold" textLength="20.08" lengthAdjust="spacingAndGlyphs">AID</text>
<rect x="370.00" y="514.60" width="3.40" height="1.6" fill="#000"/>
<text x="376.69" y="523.20" font-size="11.60" font-weight="bold" textLength="37.68" lengthAdjust="spacingAndGlyphs">M-CLL</text>
<line x1="327.50" y1="534.40" x2="342.90" y2="534.40" stroke="#000" stroke-width="1.5" />
<path d="M332.45 531.80L337.95 531.80L335.20 537.00Z" fill="#fff" stroke="#000" stroke-width="1.1" stroke-linejoin="miter"/>
<text x="349.81" y="540.20" font-size="11.60" font-weight="bold" textLength="20.08" lengthAdjust="spacingAndGlyphs">AID</text>
<rect x="370.90" y="531.00" width="5.00" height="1.60" fill="#000"/>
<rect x="372.60" y="529.30" width="1.60" height="5.00" fill="#000"/>
<text x="380.29" y="540.20" font-size="11.60" font-weight="bold" textLength="37.58" lengthAdjust="spacingAndGlyphs">M-CLL</text>
<text x="482.11" y="487.83" font-size="16.8" font-weight="bold">*</text>
<line x1="321.5" y1="421.25" x2="341" y2="421.25" stroke="#8a8a8a" stroke-width="1.5"/>
<path d="M341.00 421.25H342.50V421.25H346.25V421.25H350.00V421.25H374.60V424.60H378.50V424.60H382.30V424.60H388.50V429.20H393.80V433.80H397.70V433.80H401.50V433.80H404.60V439.20H406.20V446.20H410.80V453.10H413.50V460.00H421.00V460.00H425.40V467.70H432.30V467.70H433.30V476.50H441.00V485.40H449.00V485.40H451.60V497.30H455.10V497.30H457.70V497.30H461.10V497.30H509.60V497.30" fill="none" stroke="#000" stroke-width="1.5" stroke-dasharray="1.6 2.2"/>
<path d="M341.00 421.25H342.80V426.00H345.80V426.00H348.50V431.50H350.60V434.50H352.30V438.80H359.80V444.00H361.80V445.80H370.80V451.00H381.10V451.00H386.90V451.00H392.50V458.20H395.40V464.60H398.50V466.50H402.30V474.60H404.60V482.30H408.50V483.80H410.80V493.60H419.20V493.60H450.00V493.60H453.90V520.20H453.90V545.50" fill="none" stroke="#000" stroke-width="1.5" />
<path d="M339.35 424.55L342.50 417.95L345.65 424.55Z" fill="#000"/>
<path d="M343.10 424.55L346.25 417.95L349.40 424.55Z" fill="#000"/>
<path d="M346.85 424.55L350.00 417.95L353.15 424.55Z" fill="#000"/>
<path d="M371.45 427.90L374.60 421.30L377.75 427.90Z" fill="#000"/>
<path d="M375.35 427.90L378.50 421.30L381.65 427.90Z" fill="#000"/>
<path d="M379.15 427.90L382.30 421.30L385.45 427.90Z" fill="#000"/>
<path d="M385.35 432.50L388.50 425.90L391.65 432.50Z" fill="#000"/>
<path d="M390.65 437.10L393.80 430.50L396.95 437.10Z" fill="#000"/>
<path d="M394.55 437.10L397.70 430.50L400.85 437.10Z" fill="#000"/>
<path d="M398.35 437.10L401.50 430.50L404.65 437.10Z" fill="#000"/>
<path d="M401.45 442.50L404.60 435.90L407.75 442.50Z" fill="#000"/>
<path d="M403.05 449.50L406.20 442.90L409.35 449.50Z" fill="#000"/>
<path d="M407.65 456.40L410.80 449.80L413.95 456.40Z" fill="#000"/>
<path d="M410.35 463.30L413.50 456.70L416.65 463.30Z" fill="#000"/>
<path d="M417.85 463.30L421.00 456.70L424.15 463.30Z" fill="#000"/>
<path d="M422.25 471.00L425.40 464.40L428.55 471.00Z" fill="#000"/>
<path d="M429.15 471.00L432.30 464.40L435.45 471.00Z" fill="#000"/>
<path d="M430.15 479.80L433.30 473.20L436.45 479.80Z" fill="#000"/>
<path d="M437.85 488.70L441.00 482.10L444.15 488.70Z" fill="#000"/>
<path d="M445.85 488.70L449.00 482.10L452.15 488.70Z" fill="#000"/>
<path d="M448.45 500.60L451.60 494.00L454.75 500.60Z" fill="#000"/>
<path d="M451.95 500.60L455.10 494.00L458.25 500.60Z" fill="#000"/>
<path d="M454.55 500.60L457.70 494.00L460.85 500.60Z" fill="#000"/>
<path d="M457.95 500.60L461.10 494.00L464.25 500.60Z" fill="#000"/>
<path d="M506.45 500.60L509.60 494.00L512.75 500.60Z" fill="#000"/>
<path d="M340.05 423.40L345.55 423.40L342.80 428.60Z" fill="#fff" stroke="#000" stroke-width="1.1" stroke-linejoin="miter"/>
<path d="M343.05 423.40L348.55 423.40L345.80 428.60Z" fill="#fff" stroke="#000" stroke-width="1.1" stroke-linejoin="miter"/>
<path d="M345.75 428.90L351.25 428.90L348.50 434.10Z" fill="#fff" stroke="#000" stroke-width="1.1" stroke-linejoin="miter"/>
<path d="M347.85 431.90L353.35 431.90L350.60 437.10Z" fill="#fff" stroke="#000" stroke-width="1.1" stroke-linejoin="miter"/>
<path d="M349.55 436.20L355.05 436.20L352.30 441.40Z" fill="#fff" stroke="#000" stroke-width="1.1" stroke-linejoin="miter"/>
<path d="M357.05 441.40L362.55 441.40L359.80 446.60Z" fill="#fff" stroke="#000" stroke-width="1.1" stroke-linejoin="miter"/>
<path d="M359.05 443.20L364.55 443.20L361.80 448.40Z" fill="#fff" stroke="#000" stroke-width="1.1" stroke-linejoin="miter"/>
<path d="M368.05 448.40L373.55 448.40L370.80 453.60Z" fill="#fff" stroke="#000" stroke-width="1.1" stroke-linejoin="miter"/>
<path d="M378.35 448.40L383.85 448.40L381.10 453.60Z" fill="#fff" stroke="#000" stroke-width="1.1" stroke-linejoin="miter"/>
<path d="M384.15 448.40L389.65 448.40L386.90 453.60Z" fill="#fff" stroke="#000" stroke-width="1.1" stroke-linejoin="miter"/>
<path d="M389.75 455.60L395.25 455.60L392.50 460.80Z" fill="#fff" stroke="#000" stroke-width="1.1" stroke-linejoin="miter"/>
<path d="M392.65 462.00L398.15 462.00L395.40 467.20Z" fill="#fff" stroke="#000" stroke-width="1.1" stroke-linejoin="miter"/>
<path d="M395.75 463.90L401.25 463.90L398.50 469.10Z" fill="#fff" stroke="#000" stroke-width="1.1" stroke-linejoin="miter"/>
<path d="M399.55 472.00L405.05 472.00L402.30 477.20Z" fill="#fff" stroke="#000" stroke-width="1.1" stroke-linejoin="miter"/>
<path d="M401.85 479.70L407.35 479.70L404.60 484.90Z" fill="#fff" stroke="#000" stroke-width="1.1" stroke-linejoin="miter"/>
<path d="M405.75 481.20L411.25 481.20L408.50 486.40Z" fill="#fff" stroke="#000" stroke-width="1.1" stroke-linejoin="miter"/>
<path d="M408.05 491.00L413.55 491.00L410.80 496.20Z" fill="#fff" stroke="#000" stroke-width="1.1" stroke-linejoin="miter"/>
<path d="M416.45 491.00L421.95 491.00L419.20 496.20Z" fill="#fff" stroke="#000" stroke-width="1.1" stroke-linejoin="miter"/>
<path d="M447.25 491.00L452.75 491.00L450.00 496.20Z" fill="#fff" stroke="#000" stroke-width="1.1" stroke-linejoin="miter"/>
<path d="M451.15 517.60L456.65 517.60L453.90 522.80Z" fill="#fff" stroke="#000" stroke-width="1.1" stroke-linejoin="miter"/>
<path d="M451.15 542.90L456.65 542.90L453.90 548.10Z" fill="#fff" stroke="#000" stroke-width="1.1" stroke-linejoin="miter"/>
<line x1="43.00" y1="619.50" x2="43.00" y2="746.60" stroke="#000" stroke-width="2" />
<line x1="38.50" y1="745.60" x2="43.00" y2="745.60" stroke="#000" stroke-width="1.6" />
<line x1="40.20" y1="739.30" x2="43.00" y2="739.30" stroke="#000" stroke-width="1.6" />
<line x1="40.20" y1="732.99" x2="43.00" y2="732.99" stroke="#000" stroke-width="1.6" />
<line x1="40.20" y1="726.69" x2="43.00" y2="726.69" stroke="#000" stroke-width="1.6" />
<line x1="38.50" y1="720.38" x2="43.00" y2="720.38" stroke="#000" stroke-width="1.6" />
<line x1="40.20" y1="714.08" x2="43.00" y2="714.08" stroke="#000" stroke-width="1.6" />
<line x1="40.20" y1="707.77" x2="43.00" y2="707.77" stroke="#000" stroke-width="1.6" />
<line x1="40.20" y1="701.47" x2="43.00" y2="701.47" stroke="#000" stroke-width="1.6" />
<line x1="38.50" y1="695.16" x2="43.00" y2="695.16" stroke="#000" stroke-width="1.6" />
<line x1="40.20" y1="688.86" x2="43.00" y2="688.86" stroke="#000" stroke-width="1.6" />
<line x1="40.20" y1="682.55" x2="43.00" y2="682.55" stroke="#000" stroke-width="1.6" />
<line x1="40.20" y1="676.25" x2="43.00" y2="676.25" stroke="#000" stroke-width="1.6" />
<line x1="38.50" y1="669.94" x2="43.00" y2="669.94" stroke="#000" stroke-width="1.6" />
<line x1="40.20" y1="663.63" x2="43.00" y2="663.63" stroke="#000" stroke-width="1.6" />
<line x1="40.20" y1="657.33" x2="43.00" y2="657.33" stroke="#000" stroke-width="1.6" />
<line x1="40.20" y1="651.03" x2="43.00" y2="651.03" stroke="#000" stroke-width="1.6" />
<line x1="38.50" y1="644.72" x2="43.00" y2="644.72" stroke="#000" stroke-width="1.6" />
<line x1="40.20" y1="638.42" x2="43.00" y2="638.42" stroke="#000" stroke-width="1.6" />
<line x1="40.20" y1="632.11" x2="43.00" y2="632.11" stroke="#000" stroke-width="1.6" />
<line x1="40.20" y1="625.81" x2="43.00" y2="625.81" stroke="#000" stroke-width="1.6" />
<line x1="38.50" y1="619.50" x2="43.00" y2="619.50" stroke="#000" stroke-width="1.6" />
<line x1="42.00" y1="745.60" x2="231.00" y2="745.60" stroke="#000" stroke-width="2" />
<line x1="43.00" y1="745.60" x2="43.00" y2="750.20" stroke="#000" stroke-width="1.6" />
<line x1="52.22" y1="745.60" x2="52.22" y2="748.60" stroke="#000" stroke-width="1.6" />
<line x1="61.43" y1="745.60" x2="61.43" y2="748.60" stroke="#000" stroke-width="1.6" />
<line x1="70.65" y1="745.60" x2="70.65" y2="748.60" stroke="#000" stroke-width="1.6" />
<line x1="79.86" y1="745.60" x2="79.86" y2="748.60" stroke="#000" stroke-width="1.6" />
<line x1="89.08" y1="745.60" x2="89.08" y2="750.20" stroke="#000" stroke-width="1.6" />
<line x1="98.30" y1="745.60" x2="98.30" y2="748.60" stroke="#000" stroke-width="1.6" />
<line x1="107.51" y1="745.60" x2="107.51" y2="748.60" stroke="#000" stroke-width="1.6" />
<line x1="116.73" y1="745.60" x2="116.73" y2="748.60" stroke="#000" stroke-width="1.6" />
<line x1="125.94" y1="745.60" x2="125.94" y2="748.60" stroke="#000" stroke-width="1.6" />
<line x1="135.16" y1="745.60" x2="135.16" y2="750.20" stroke="#000" stroke-width="1.6" />
<line x1="144.38" y1="745.60" x2="144.38" y2="748.60" stroke="#000" stroke-width="1.6" />
<line x1="153.59" y1="745.60" x2="153.59" y2="748.60" stroke="#000" stroke-width="1.6" />
<line x1="162.81" y1="745.60" x2="162.81" y2="748.60" stroke="#000" stroke-width="1.6" />
<line x1="172.02" y1="745.60" x2="172.02" y2="748.60" stroke="#000" stroke-width="1.6" />
<line x1="181.24" y1="745.60" x2="181.24" y2="750.20" stroke="#000" stroke-width="1.6" />
<line x1="190.46" y1="745.60" x2="190.46" y2="748.60" stroke="#000" stroke-width="1.6" />
<line x1="199.67" y1="745.60" x2="199.67" y2="748.60" stroke="#000" stroke-width="1.6" />
<line x1="208.89" y1="745.60" x2="208.89" y2="748.60" stroke="#000" stroke-width="1.6" />
<line x1="218.10" y1="745.60" x2="218.10" y2="748.60" stroke="#000" stroke-width="1.6" />
<line x1="227.32" y1="745.60" x2="227.32" y2="750.20" stroke="#000" stroke-width="1.6" />
<text x="32.94" y="749.30" font-size="10.60" font-weight="bold" textLength="5.90" lengthAdjust="spacingAndGlyphs">0</text>
<text x="27.04" y="724.08" font-size="10.60" font-weight="bold" textLength="11.79" lengthAdjust="spacingAndGlyphs">20</text>
<text x="27.04" y="698.86" font-size="10.60" font-weight="bold" textLength="11.79" lengthAdjust="spacingAndGlyphs">40</text>
<text x="27.04" y="673.64" font-size="10.60" font-weight="bold" textLength="11.79" lengthAdjust="spacingAndGlyphs">60</text>
<text x="27.04" y="648.42" font-size="10.60" font-weight="bold" textLength="11.79" lengthAdjust="spacingAndGlyphs">80</text>
<text x="21.15" y="623.20" font-size="10.60" font-weight="bold" textLength="17.69" lengthAdjust="spacingAndGlyphs">100</text>
<text x="40.06" y="761.00" font-size="10.60" font-weight="bold" textLength="5.90" lengthAdjust="spacingAndGlyphs">0</text>
<text x="80.12" y="761.00" font-size="10.60" font-weight="bold" textLength="17.69" lengthAdjust="spacingAndGlyphs">100</text>
<text x="126.35" y="761.00" font-size="10.60" font-weight="bold" textLength="17.69" lengthAdjust="spacingAndGlyphs">200</text>
<text x="172.49" y="761.00" font-size="10.60" font-weight="bold" textLength="17.69" lengthAdjust="spacingAndGlyphs">300</text>
<text x="218.61" y="761.00" font-size="10.60" font-weight="bold" textLength="17.69" lengthAdjust="spacingAndGlyphs">400</text>
<text transform="translate(13.20,727.50) rotate(-90)" x="-0.82" y="0" font-size="12.40" font-weight="bold" textLength="94.79" lengthAdjust="spacingAndGlyphs">Percent survival</text>
<text x="115.17" y="779.00" font-size="12.40" font-weight="bold" textLength="44.35" lengthAdjust="spacingAndGlyphs">Months</text>
<line x1="138.50" y1="629.20" x2="153.00" y2="629.20" stroke="#000" stroke-width="1.6" stroke-dasharray="1.6 2.2"/>
<path d="M142.60 632.50L145.75 625.90L148.90 632.50Z" fill="#000"/>
<text x="161.01" y="635.20" font-size="11.60" font-weight="bold" textLength="20.08" lengthAdjust="spacingAndGlyphs">AID</text>
<rect x="181.10" y="626.60" width="3.70" height="1.6" fill="#000"/>
<text x="188.18" y="635.20" font-size="11.60" font-weight="bold" textLength="35.78" lengthAdjust="spacingAndGlyphs">U-CLL</text>
<line x1="138.50" y1="647.70" x2="154.00" y2="647.70" stroke="#000" stroke-width="1.5" />
<path d="M143.50 645.10L149.00 645.10L146.25 650.30Z" fill="#fff" stroke="#000" stroke-width="1.1" stroke-linejoin="miter"/>
<text x="161.01" y="654.00" font-size="11.60" font-weight="bold" textLength="20.08" lengthAdjust="spacingAndGlyphs">AID</text>
<rect x="182.10" y="644.00" width="5.00" height="1.60" fill="#000"/>
<rect x="183.80" y="642.30" width="1.60" height="5.00" fill="#000"/>
<text x="191.37" y="654.00" font-size="11.60" font-weight="bold" textLength="36.30" lengthAdjust="spacingAndGlyphs">U-CLL</text>
<text x="137.23" y="700.50" font-size="11.30" font-weight="normal" textLength="17.44" lengthAdjust="spacingAndGlyphs">n/s</text>
<path d="M43.50 619.80H60.80V627.60H72.30V627.60H78.70V644.60H92.50V644.60H96.00V644.60H97.10V655.00H100.00V655.00H102.90V666.00H104.60V666.00H105.80V679.20H109.20V679.20H112.10V679.20H112.70V712.50H113.80V745.60" fill="none" stroke="#000" stroke-width="1.5" stroke-dasharray="1.6 2.2"/>
<path d="M43.50 619.80H46.90V623.00H51.50V625.80H57.30V629.30H59.60V633.60H72.30V636.80H74.00V640.80H75.20V645.00H78.10V648.70H81.00V652.70H82.70V656.70H83.80V660.20H85.60V664.20H86.70V667.70H87.60V673.00H88.50V685.00H90.20V691.30H91.60V695.60H97.30V700.80H99.20V704.60H102.10V708.50H104.00V713.30H106.00V717.10H108.80V721.30H110.80V721.30H123.30V724.80H126.20V728.70H129.00V731.50H131.90V738.30H158.80V744.00" fill="none" stroke="#000" stroke-width="1.5" />
<path d="M57.65 630.90L60.80 624.30L63.95 630.90Z" fill="#000"/>
<path d="M69.15 630.90L72.30 624.30L75.45 630.90Z" fill="#000"/>
<path d="M75.55 647.90L78.70 641.30L81.85 647.90Z" fill="#000"/>
<path d="M89.35 647.90L92.50 641.30L95.65 647.90Z" fill="#000"/>
<path d="M92.85 647.90L96.00 641.30L99.15 647.90Z" fill="#000"/>
<path d="M93.95 658.30L97.10 651.70L100.25 658.30Z" fill="#000"/>
<path d="M96.85 658.30L100.00 651.70L103.15 658.30Z" fill="#000"/>
<path d="M99.75 669.30L102.90 662.70L106.05 669.30Z" fill="#000"/>
<path d="M101.45 669.30L104.60 662.70L107.75 669.30Z" fill="#000"/>
<path d="M102.65 682.50L105.80 675.90L108.95 682.50Z" fill="#000"/>
<path d="M106.05 682.50L109.20 675.90L112.35 682.50Z" fill="#000"/>
<path d="M108.95 682.50L112.10 675.90L115.25 682.50Z" fill="#000"/>
<path d="M109.55 715.80L112.70 709.20L115.85 715.80Z" fill="#000"/>
<path d="M110.65 748.90L113.80 742.30L116.95 748.90Z" fill="#000"/>
<path d="M44.15 620.40L49.65 620.40L46.90 625.60Z" fill="#fff" stroke="#000" stroke-width="1.1" stroke-linejoin="miter"/>
<path d="M48.75 623.20L54.25 623.20L51.50 628.40Z" fill="#fff" stroke="#000" stroke-width="1.1" stroke-linejoin="miter"/>
<path d="M54.55 626.70L60.05 626.70L57.30 631.90Z" fill="#fff" stroke="#000" stroke-width="1.1" stroke-linejoin="miter"/>
<path d="M56.85 631.00L62.35 631.00L59.60 636.20Z" fill="#fff" stroke="#000" stroke-width="1.1" stroke-linejoin="miter"/>
<path d="M69.55 634.20L75.05 634.20L72.30 639.40Z" fill="#fff" stroke="#000" stroke-width="1.1" stroke-linejoin="miter"/>
<path d="M71.25 638.20L76.75 638.20L74.00 643.40Z" fill="#fff" stroke="#000" stroke-width="1.1" stroke-linejoin="miter"/>
<path d="M72.45 642.40L77.95 642.40L75.20 647.60Z" fill="#fff" stroke="#000" stroke-width="1.1" stroke-linejoin="miter"/>
<path d="M75.35 646.10L80.85 646.10L78.10 651.30Z" fill="#fff" stroke="#000" stroke-width="1.1" stroke-linejoin="miter"/>
<path d="M78.25 650.10L83.75 650.10L81.00 655.30Z" fill="#fff" stroke="#000" stroke-width="1.1" stroke-linejoin="miter"/>
<path d="M79.95 654.10L85.45 654.10L82.70 659.30Z" fill="#fff" stroke="#000" stroke-width="1.1" stroke-linejoin="miter"/>
<path d="M81.05 657.60L86.55 657.60L83.80 662.80Z" fill="#fff" stroke="#000" stroke-width="1.1" stroke-linejoin="miter"/>
<path d="M82.85 661.60L88.35 661.60L85.60 666.80Z" fill="#fff" stroke="#000" stroke-width="1.1" stroke-linejoin="miter"/>
<path d="M83.95 665.10L89.45 665.10L86.70 670.30Z" fill="#fff" stroke="#000" stroke-width="1.1" stroke-linejoin="miter"/>
<path d="M84.85 670.40L90.35 670.40L87.60 675.60Z" fill="#fff" stroke="#000" stroke-width="1.1" stroke-linejoin="miter"/>
<path d="M85.75 682.40L91.25 682.40L88.50 687.60Z" fill="#fff" stroke="#000" stroke-width="1.1" stroke-linejoin="miter"/>
<path d="M87.45 688.70L92.95 688.70L90.20 693.90Z" fill="#fff" stroke="#000" stroke-width="1.1" stroke-linejoin="miter"/>
<path d="M88.85 693.00L94.35 693.00L91.60 698.20Z" fill="#fff" stroke="#000" stroke-width="1.1" stroke-linejoin="miter"/>
<path d="M94.55 698.20L100.05 698.20L97.30 703.40Z" fill="#fff" stroke="#000" stroke-width="1.1" stroke-linejoin="miter"/>
<path d="M96.45 702.00L101.95 702.00L99.20 707.20Z" fill="#fff" stroke="#000" stroke-width="1.1" stroke-linejoin="miter"/>
<path d="M99.35 705.90L104.85 705.90L102.10 711.10Z" fill="#fff" stroke="#000" stroke-width="1.1" stroke-linejoin="miter"/>
<path d="M101.25 710.70L106.75 710.70L104.00 715.90Z" fill="#fff" stroke="#000" stroke-width="1.1" stroke-linejoin="miter"/>
<path d="M103.25 714.50L108.75 714.50L106.00 719.70Z" fill="#fff" stroke="#000" stroke-width="1.1" stroke-linejoin="miter"/>
<path d="M106.05 718.70L111.55 718.70L108.80 723.90Z" fill="#fff" stroke="#000" stroke-width="1.1" stroke-linejoin="miter"/>
<path d="M108.05 718.70L113.55 718.70L110.80 723.90Z" fill="#fff" stroke="#000" stroke-width="1.1" stroke-linejoin="miter"/>
<path d="M120.55 722.20L126.05 722.20L123.30 727.40Z" fill="#fff" stroke="#000" stroke-width="1.1" stroke-linejoin="miter"/>
<path d="M123.45 726.10L128.95 726.10L126.20 731.30Z" fill="#fff" stroke="#000" stroke-width="1.1" stroke-linejoin="miter"/>
<path d="M126.25 728.90L131.75 728.90L129.00 734.10Z" fill="#fff" stroke="#000" stroke-width="1.1" stroke-linejoin="miter"/>
<path d="M129.15 735.70L134.65 735.70L131.90 740.90Z" fill="#fff" stroke="#000" stroke-width="1.1" stroke-linejoin="miter"/>
<path d="M156.05 741.40L161.55 741.40L158.80 746.60Z" fill="#fff" stroke="#000" stroke-width="1.1" stroke-linejoin="miter"/>
<line x1="322.20" y1="620.80" x2="322.20" y2="744.40" stroke="#000" stroke-width="2" />
<line x1="317.80" y1="743.40" x2="322.20" y2="743.40" stroke="#000" stroke-width="1.6" />
<line x1="319.30" y1="736.62" x2="322.20" y2="736.62" stroke="#000" stroke-width="1.6" />
<line x1="319.30" y1="729.84" x2="322.20" y2="729.84" stroke="#000" stroke-width="1.6" />
<line x1="319.30" y1="723.06" x2="322.20" y2="723.06" stroke="#000" stroke-width="1.6" />
<line x1="319.30" y1="716.28" x2="322.20" y2="716.28" stroke="#000" stroke-width="1.6" />
<line x1="317.80" y1="709.50" x2="322.20" y2="709.50" stroke="#000" stroke-width="1.6" />
<line x1="319.30" y1="702.72" x2="322.20" y2="702.72" stroke="#000" stroke-width="1.6" />
<line x1="319.30" y1="695.94" x2="322.20" y2="695.94" stroke="#000" stroke-width="1.6" />
<line x1="319.30" y1="689.16" x2="322.20" y2="689.16" stroke="#000" stroke-width="1.6" />
<line x1="319.30" y1="682.38" x2="322.20" y2="682.38" stroke="#000" stroke-width="1.6" />
<line x1="317.80" y1="675.60" x2="322.20" y2="675.60" stroke="#000" stroke-width="1.6" />
<line x1="319.30" y1="668.82" x2="322.20" y2="668.82" stroke="#000" stroke-width="1.6" />
<line x1="319.30" y1="662.04" x2="322.20" y2="662.04" stroke="#000" stroke-width="1.6" />
<line x1="319.30" y1="655.26" x2="322.20" y2="655.26" stroke="#000" stroke-width="1.6" />
<line x1="319.30" y1="648.48" x2="322.20" y2="648.48" stroke="#000" stroke-width="1.6" />
<line x1="317.80" y1="641.70" x2="322.20" y2="641.70" stroke="#000" stroke-width="1.6" />
<line x1="319.30" y1="634.92" x2="322.20" y2="634.92" stroke="#000" stroke-width="1.6" />
<line x1="319.30" y1="628.14" x2="322.20" y2="628.14" stroke="#000" stroke-width="1.6" />
<line x1="319.30" y1="621.36" x2="322.20" y2="621.36" stroke="#000" stroke-width="1.6" />
<text x="310.01" y="747.73" font-size="12.40" font-weight="bold" textLength="6.90" lengthAdjust="spacingAndGlyphs">0</text>
<text x="309.85" y="713.83" font-size="12.40" font-weight="bold" textLength="6.90" lengthAdjust="spacingAndGlyphs">5</text>
<text x="303.12" y="679.93" font-size="12.40" font-weight="bold" textLength="13.79" lengthAdjust="spacingAndGlyphs">10</text>
<text x="302.95" y="646.03" font-size="12.40" font-weight="bold" textLength="13.79" lengthAdjust="spacingAndGlyphs">15</text>
<rect x="328.40" y="628.14" width="12.80" height="115.26" fill="#fff" stroke="#000" stroke-width="2"/>
<rect x="341.20" y="702.72" width="11.90" height="40.68" fill="#a0a0a0" stroke="#000" stroke-width="2"/>
<text x="337.82" y="758.20" font-size="12.20" font-weight="bold" textLength="6.79" lengthAdjust="spacingAndGlyphs">0</text>
<rect x="365.00" y="709.50" width="12.80" height="33.90" fill="#fff" stroke="#000" stroke-width="2"/>
<rect x="377.80" y="668.82" width="11.90" height="74.58" fill="#a0a0a0" stroke="#000" stroke-width="2"/>
<text x="374.19" y="758.20" font-size="12.20" font-weight="bold" textLength="6.79" lengthAdjust="spacingAndGlyphs">1</text>
<rect x="414.40" y="729.84" width="11.90" height="13.56" fill="#a0a0a0" stroke="#000" stroke-width="2"/>
<text x="411.04" y="758.20" font-size="12.20" font-weight="bold" textLength="6.79" lengthAdjust="spacingAndGlyphs">2</text>
<rect x="451.00" y="736.62" width="11.90" height="6.78" fill="#a0a0a0" stroke="#000" stroke-width="2"/>
<text x="447.69" y="758.20" font-size="12.20" font-weight="bold" textLength="6.79" lengthAdjust="spacingAndGlyphs">3</text>
<rect x="487.60" y="736.62" width="11.90" height="6.78" fill="#a0a0a0" stroke="#000" stroke-width="2"/>
<text x="484.15" y="758.20" font-size="12.20" font-weight="bold" textLength="6.79" lengthAdjust="spacingAndGlyphs">4</text>
<line x1="321.20" y1="743.40" x2="505.50" y2="743.40" stroke="#000" stroke-width="2" />
<text transform="translate(291.30,718.70) rotate(-90)" x="-0.77" y="0" font-size="12.20" font-weight="bold" textLength="80.04" lengthAdjust="spacingAndGlyphs">No. of patients</text>
<text x="330.12" y="778.10" font-size="11.90" font-weight="bold" textLength="167.86" lengthAdjust="spacingAndGlyphs">No. of cytogenetic aberrations</text>
<rect x="460.50" y="614.20" width="17.60" height="10.30" fill="#fff" stroke="#000" stroke-width="2"/>
<text x="485.92" y="620.80" font-size="10.60" font-weight="bold" textLength="19.14" lengthAdjust="spacingAndGlyphs">AID</text>
<rect x="505.40" y="614.00" width="2.80" height="1.6" fill="#000"/>
<rect x="460.50" y="640.00" width="17.60" height="10.20" fill="#a0a0a0" stroke="#000" stroke-width="2"/>
<text x="485.92" y="646.20" font-size="10.60" font-weight="bold" textLength="19.14" lengthAdjust="spacingAndGlyphs">AID</text>
<rect x="505.50" y="639.50" width="4.40" height="1.40" fill="#000"/>
<rect x="507.00" y="638.00" width="1.40" height="4.40" fill="#000"/>
<text x="489.76" y="700.48" font-size="16.8" font-weight="bold">*</text>
<text x="498.59" y="700.48" font-size="16.8" font-weight="bold">*</text>
<text x="507.41" y="700.48" font-size="16.8" font-weight="bold">*</text>
</svg>
</body></html>
